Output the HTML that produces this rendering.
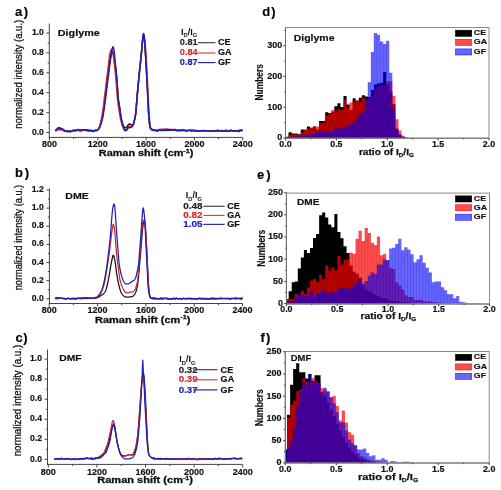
<!DOCTYPE html><html><head><meta charset="utf-8"><style>html,body{margin:0;padding:0;background:#fff;width:501px;height:490px;overflow:hidden}</style></head><body><svg width="501" height="490" viewBox="0 0 501 490" style="display:block;filter:blur(0.35px)">
<g font-family='"Liberation Sans", sans-serif'>
<rect width="501" height="490" fill="#fff"/>
<text x="15.00" y="15.90" font-size="13" font-weight="bold" fill="#000" stroke="#000" stroke-width="0.16" text-anchor="start" >a</text>
<text x="23.80" y="15.90" font-size="13" font-weight="bold" fill="#000" stroke="#000" stroke-width="0.16" text-anchor="start" >)</text>
<text x="15.10" y="177.40" font-size="13" font-weight="bold" fill="#000" stroke="#000" stroke-width="0.16" text-anchor="start" >b</text>
<text x="24.70" y="177.40" font-size="13" font-weight="bold" fill="#000" stroke="#000" stroke-width="0.16" text-anchor="start" >)</text>
<text x="15.50" y="341.60" font-size="13" font-weight="bold" fill="#000" stroke="#000" stroke-width="0.16" text-anchor="start" >c</text>
<text x="23.20" y="341.60" font-size="13" font-weight="bold" fill="#000" stroke="#000" stroke-width="0.16" text-anchor="start" >)</text>
<text x="262.30" y="16.40" font-size="13" font-weight="bold" fill="#000" stroke="#000" stroke-width="0.16" text-anchor="start" >d</text>
<text x="271.30" y="16.40" font-size="13" font-weight="bold" fill="#000" stroke="#000" stroke-width="0.16" text-anchor="start" >)</text>
<text x="257.00" y="179.00" font-size="13" font-weight="bold" fill="#000" stroke="#000" stroke-width="0.16" text-anchor="start" >e</text>
<text x="266.20" y="179.00" font-size="13" font-weight="bold" fill="#000" stroke="#000" stroke-width="0.16" text-anchor="start" >)</text>
<text x="260.50" y="341.90" font-size="13" font-weight="bold" fill="#000" stroke="#000" stroke-width="0.16" text-anchor="start" >f</text>
<text x="266.10" y="341.90" font-size="13" font-weight="bold" fill="#000" stroke="#000" stroke-width="0.16" text-anchor="start" >)</text>
<path d="M55.30,130.63 L56.30,129.92 L57.30,129.12 L58.30,127.79 L59.30,128.62 L60.30,128.34 L61.30,128.83 L62.30,128.65 L63.30,129.94 L64.30,130.26 L65.30,130.97 L66.30,131.21 L67.30,131.25 L68.30,131.29 L69.30,131.14 L70.30,131.58 L71.30,130.94 L72.30,130.80 L73.30,130.56 L74.30,130.86 L75.30,130.45 L76.30,130.35 L77.30,130.23 L78.30,129.69 L79.30,130.33 L80.30,131.01 L81.30,129.88 L82.30,130.37 L83.30,129.66 L84.30,129.95 L85.30,129.92 L86.30,130.21 L87.30,129.79 L88.30,130.77 L89.30,130.31 L90.30,130.95 L91.30,130.67 L92.30,131.21 L93.30,131.49 L94.30,130.89 L95.30,130.47 L95.55,130.40 L95.80,130.62 L96.05,130.66 L96.30,130.63 L96.55,130.59 L96.80,130.51 L97.05,130.39 L97.30,130.22 L97.55,130.01 L97.80,129.77 L98.05,129.51 L98.30,129.23 L98.55,128.94 L98.80,128.58 L99.05,128.15 L99.30,127.64 L99.55,127.09 L99.80,126.50 L100.05,125.85 L100.30,125.12 L100.55,124.31 L100.80,123.45 L101.05,122.55 L101.30,121.63 L101.55,120.68 L101.80,119.69 L102.05,118.63 L102.30,117.50 L102.55,116.28 L102.80,114.95 L103.05,113.41 L103.30,111.71 L103.55,109.90 L103.80,108.02 L104.05,106.12 L104.30,104.25 L104.55,102.35 L104.80,100.39 L105.05,98.40 L105.30,96.40 L105.55,94.40 L105.80,92.39 L106.05,90.34 L106.30,88.26 L106.55,86.17 L106.80,84.08 L107.05,82.00 L107.30,79.96 L107.55,77.95 L107.80,76.01 L108.05,74.13 L108.30,72.23 L108.55,70.30 L108.80,68.37 L109.05,66.46 L109.30,64.61 L109.55,62.85 L109.80,61.21 L110.05,59.71 L110.30,58.40 L110.55,57.29 L110.80,56.23 L111.05,55.18 L111.30,54.19 L111.55,53.32 L111.80,52.62 L112.05,52.17 L112.30,52.00 L112.55,52.15 L112.80,52.57 L113.05,53.17 L113.30,53.89 L113.55,54.66 L113.80,55.71 L114.05,57.08 L114.30,58.69 L114.55,60.45 L114.80,62.27 L115.05,64.11 L115.30,66.08 L115.55,68.19 L115.80,70.42 L116.05,72.77 L116.30,75.23 L116.55,77.78 L116.80,80.42 L117.05,83.25 L117.30,86.56 L117.55,90.09 L117.80,93.54 L118.05,96.59 L118.30,98.98 L118.55,100.99 L118.80,102.77 L119.05,104.41 L119.30,105.98 L119.55,107.54 L119.80,109.16 L120.05,110.85 L120.30,112.56 L120.55,114.23 L120.80,115.82 L121.05,117.27 L121.30,118.55 L121.55,119.64 L121.80,120.65 L122.05,121.62 L122.30,122.51 L122.55,123.34 L122.80,124.08 L123.05,124.74 L123.30,125.30 L123.55,125.79 L123.80,126.26 L124.05,126.72 L124.30,127.13 L124.55,127.46 L124.80,127.69 L125.05,127.80 L125.30,127.80 L125.55,127.78 L125.80,127.75 L126.05,127.70 L126.30,127.65 L126.55,127.58 L126.80,127.35 L127.05,126.95 L127.30,126.46 L127.55,125.94 L127.80,125.48 L128.05,125.14 L128.30,124.85 L128.55,124.56 L128.80,124.31 L129.05,124.11 L129.30,124.01 L129.55,124.01 L129.80,124.09 L130.05,124.20 L130.30,124.34 L130.55,124.48 L130.80,124.62 L131.05,124.79 L131.30,124.96 L131.55,125.08 L131.80,125.09 L132.05,125.04 L132.30,124.93 L132.55,124.77 L132.80,124.57 L133.05,124.35 L133.30,124.01 L133.55,123.41 L133.80,122.61 L134.05,121.66 L134.30,120.64 L134.55,119.60 L134.80,118.58 L135.05,117.47 L135.30,116.22 L135.55,114.73 L135.80,112.88 L136.05,110.17 L136.30,107.00 L136.55,103.90 L136.80,100.83 L137.05,97.70 L137.30,94.66 L137.55,91.81 L137.80,89.08 L138.05,86.42 L138.30,83.81 L138.55,81.26 L138.80,78.73 L139.05,76.22 L139.30,73.72 L139.55,71.20 L139.80,68.70 L140.05,66.23 L140.30,63.79 L140.55,61.35 L140.80,58.92 L141.05,56.48 L141.30,54.02 L141.55,51.52 L141.80,48.95 L142.05,46.14 L142.30,43.28 L142.55,40.64 L142.80,38.50 L143.05,36.59 L143.30,35.00 L143.55,34.52 L143.80,35.26 L144.05,36.73 L144.30,38.50 L144.55,40.88 L144.80,44.14 L145.05,47.80 L145.30,51.46 L145.55,55.30 L145.80,59.39 L146.05,63.67 L146.30,68.09 L146.55,72.62 L146.80,77.38 L147.05,82.37 L147.30,87.46 L147.55,92.51 L147.80,97.66 L148.05,103.13 L148.30,108.44 L148.55,113.06 L148.80,116.57 L149.05,119.30 L149.30,121.63 L149.55,123.85 L149.80,125.97 L150.05,127.14 L150.30,127.75 L150.55,128.24 L150.80,128.63 L151.05,128.93 L151.30,129.16 L151.55,129.33 L151.80,129.48 L152.05,129.64 L152.30,129.91 L152.55,129.92 L152.80,130.16 L153.05,130.02 L153.30,130.55 L153.55,130.44 L153.80,129.83 L154.05,130.16 L154.30,130.39 L154.55,130.09 L154.80,130.14 L155.05,129.98 L156.05,130.46 L157.05,131.23 L158.05,130.41 L159.05,130.37 L160.05,130.07 L161.05,130.14 L162.05,130.67 L163.05,130.21 L164.05,130.32 L165.05,129.87 L166.05,130.33 L167.05,130.10 L168.05,130.24 L169.05,130.12 L170.05,130.33 L171.05,130.27 L172.05,130.27 L173.05,130.15 L174.05,130.33 L175.05,129.85 L176.05,130.49 L177.05,130.43 L178.05,130.15 L179.05,130.48 L180.05,130.26 L181.05,130.68 L182.05,130.21 L183.05,129.79 L184.05,130.17 L185.05,130.35 L186.05,130.67 L187.05,130.97 L188.05,130.39 L189.05,130.49 L190.05,130.33 L191.05,130.22 L192.05,130.16 L193.05,130.41 L194.05,130.59 L195.05,130.43 L196.05,130.49 L197.05,131.21 L198.05,130.87 L199.05,130.88 L200.05,130.98 L201.05,130.75 L202.05,130.68 L203.05,130.96 L204.05,131.23 L205.05,130.90 L206.05,130.92 L207.05,130.76 L208.05,131.09 L209.05,130.76 L210.05,131.10 L211.05,131.19 L212.05,131.03 L213.05,131.02 L214.05,130.70 L215.05,130.99 L216.05,130.93 L217.05,130.46 L218.05,130.32 L219.05,131.02 L220.05,130.98 L221.05,130.77 L222.05,130.55 L223.05,131.11 L224.05,130.67 L225.05,131.25 L226.05,130.14 L227.05,131.19 L228.05,130.91 L229.05,131.03 L230.05,130.50 L231.05,130.25 L232.05,130.55 L233.05,130.80 L234.05,131.34 L235.05,131.03 L236.05,130.79 L237.05,131.06 L238.05,130.56 L239.05,130.41 L240.05,130.46 L241.05,130.24 L242.05,130.57 L242.70,130.27" fill="none" stroke="#111" stroke-width="1.5" stroke-linejoin="round"/>
<path d="M55.30,131.13 L56.30,130.74 L57.30,130.19 L58.30,129.10 L59.30,130.02 L60.30,129.61 L61.30,129.88 L62.30,129.50 L63.30,130.64 L64.30,130.82 L65.30,131.38 L66.30,131.52 L67.30,131.55 L68.30,131.59 L69.30,131.44 L70.30,131.87 L71.30,131.23 L72.30,131.11 L73.30,130.90 L74.30,131.24 L75.30,130.85 L76.30,130.75 L77.30,130.64 L78.30,130.09 L79.30,130.73 L80.30,131.41 L81.30,130.28 L82.30,130.77 L83.30,130.06 L84.30,130.35 L85.30,130.32 L86.30,130.60 L87.30,130.17 L88.30,131.13 L89.30,130.64 L90.30,131.24 L91.30,130.86 L92.30,131.30 L93.30,131.51 L94.30,130.89 L95.30,130.37 L95.55,130.26 L95.80,130.44 L96.05,130.45 L96.30,130.37 L96.55,130.28 L96.80,130.16 L97.05,129.99 L97.30,129.77 L97.55,129.52 L97.80,129.23 L98.05,128.91 L98.30,128.58 L98.55,128.23 L98.80,127.81 L99.05,127.31 L99.30,126.73 L99.55,126.09 L99.80,125.40 L100.05,124.61 L100.30,123.70 L100.55,122.68 L100.80,121.60 L101.05,120.48 L101.30,119.35 L101.55,118.19 L101.80,116.99 L102.05,115.72 L102.30,114.37 L102.55,112.92 L102.80,111.35 L103.05,109.57 L103.30,107.61 L103.55,105.53 L103.80,103.39 L104.05,101.26 L104.30,99.17 L104.55,97.04 L104.80,94.88 L105.05,92.71 L105.30,90.55 L105.55,88.42 L105.80,86.33 L106.05,84.25 L106.30,82.18 L106.55,80.12 L106.80,78.08 L107.05,76.05 L107.30,74.04 L107.55,72.04 L107.80,70.07 L108.05,68.11 L108.30,66.04 L108.55,63.87 L108.80,61.68 L109.05,59.56 L109.30,57.57 L109.55,55.82 L109.80,54.38 L110.05,53.32 L110.30,52.40 L110.55,51.53 L110.80,50.76 L111.05,50.14 L111.30,49.70 L111.55,49.51 L111.80,49.62 L112.05,50.06 L112.30,50.74 L112.55,51.58 L112.80,52.50 L113.05,53.70 L113.30,55.37 L113.55,57.34 L113.80,59.46 L114.05,61.59 L114.30,63.66 L114.55,65.79 L114.80,68.00 L115.05,70.29 L115.30,72.67 L115.55,75.15 L115.80,77.74 L116.05,80.44 L116.30,83.44 L116.55,86.90 L116.80,90.53 L117.05,94.02 L117.30,97.07 L117.55,99.49 L117.80,101.64 L118.05,103.59 L118.30,105.39 L118.55,107.09 L118.80,108.72 L119.05,110.32 L119.30,111.89 L119.55,113.40 L119.80,114.86 L120.05,116.24 L120.30,117.55 L120.55,118.77 L120.80,119.92 L121.05,121.06 L121.30,122.16 L121.55,123.20 L121.80,124.15 L122.05,125.01 L122.30,125.75 L122.55,126.37 L122.80,126.98 L123.05,127.58 L123.30,128.15 L123.55,128.66 L123.80,129.11 L124.05,129.46 L124.30,129.69 L124.55,129.80 L124.80,129.79 L125.05,129.77 L125.30,129.72 L125.55,129.66 L125.80,129.58 L126.05,129.49 L126.30,129.39 L126.55,129.27 L126.80,129.07 L127.05,128.77 L127.30,128.42 L127.55,128.05 L127.80,127.71 L128.05,127.45 L128.30,127.20 L128.55,126.96 L128.80,126.75 L129.05,126.62 L129.30,126.60 L129.55,126.64 L129.80,126.69 L130.05,126.74 L130.30,126.79 L130.55,126.80 L130.80,126.78 L131.05,126.72 L131.30,126.65 L131.55,126.55 L131.80,126.45 L132.05,126.32 L132.30,126.14 L132.55,125.89 L132.80,125.59 L133.05,125.22 L133.30,124.80 L133.55,124.16 L133.80,123.22 L134.05,122.09 L134.30,120.85 L134.55,119.63 L134.80,118.50 L135.05,117.38 L135.30,116.17 L135.55,114.72 L135.80,112.88 L136.05,110.17 L136.30,107.00 L136.55,103.90 L136.80,100.83 L137.05,97.70 L137.30,94.66 L137.55,91.81 L137.80,89.07 L138.05,86.40 L138.30,83.79 L138.55,81.22 L138.80,78.70 L139.05,76.19 L139.30,73.70 L139.55,71.20 L139.80,68.73 L140.05,66.29 L140.30,63.89 L140.55,61.49 L140.80,59.11 L141.05,56.73 L141.30,54.35 L141.55,51.95 L141.80,49.50 L142.05,46.81 L142.30,44.06 L142.55,41.52 L142.80,39.44 L143.05,37.92 L143.30,36.50 L143.55,35.43 L143.80,35.00 L144.05,35.44 L144.30,36.55 L144.55,38.04 L144.80,39.72 L145.05,42.10 L145.30,45.11 L145.55,48.45 L145.80,51.90 L146.05,55.71 L146.30,59.89 L146.55,64.30 L146.80,68.85 L147.05,73.42 L147.30,78.15 L147.55,83.07 L147.80,88.07 L148.05,93.02 L148.30,98.05 L148.55,103.34 L148.80,108.48 L149.05,113.03 L149.30,116.65 L149.55,119.76 L149.80,122.38 L150.05,124.34 L150.30,125.95 L150.55,127.16 L150.80,127.80 L151.05,128.24 L151.30,128.62 L151.55,128.93 L151.80,129.19 L152.05,129.42 L152.30,129.72 L152.55,129.73 L152.80,129.96 L153.05,129.82 L153.30,130.35 L153.55,130.25 L153.80,129.64 L154.05,129.97 L154.30,130.19 L154.55,129.87 L154.80,129.89 L155.05,129.70 L156.05,130.04 L157.05,130.66 L158.05,129.69 L159.05,129.55 L160.05,129.20 L161.05,129.25 L162.05,129.76 L163.05,129.28 L164.05,129.37 L165.05,128.89 L166.05,129.33 L167.05,129.10 L168.05,129.26 L169.05,129.17 L170.05,129.43 L171.05,129.41 L172.05,129.45 L173.05,129.38 L174.05,129.64 L175.05,129.26 L176.05,129.98 L177.05,130.00 L178.05,129.77 L179.05,130.15 L180.05,129.96 L181.05,130.41 L182.05,129.97 L183.05,129.58 L184.05,129.98 L185.05,130.17 L186.05,130.52 L187.05,130.83 L188.05,130.26 L189.05,130.38 L190.05,130.23 L191.05,130.13 L192.05,130.09 L193.05,130.35 L194.05,130.54 L195.05,130.39 L196.05,130.46 L197.05,131.19 L198.05,130.86 L199.05,130.87 L200.05,130.98 L201.05,130.76 L202.05,130.69 L203.05,130.99 L204.05,131.25 L205.05,130.93 L206.05,130.95 L207.05,130.79 L208.05,131.11 L209.05,130.78 L210.05,131.11 L211.05,131.20 L212.05,131.04 L213.05,131.02 L214.05,130.70 L215.05,130.99 L216.05,130.93 L217.05,130.47 L218.05,130.32 L219.05,131.03 L220.05,130.99 L221.05,130.79 L222.05,130.57 L223.05,131.14 L224.05,130.71 L225.05,131.30 L226.05,130.20 L227.05,131.27 L228.05,131.00 L229.05,131.13 L230.05,130.62 L231.05,130.38 L232.05,130.69 L233.05,130.93 L234.05,131.46 L235.05,131.13 L236.05,130.87 L237.05,131.11 L238.05,130.60 L239.05,130.41 L240.05,130.43 L241.05,130.19 L242.05,130.48 L242.70,130.17" fill="none" stroke="#cc2a2a" stroke-width="1.5" stroke-linejoin="round"/>
<path d="M55.30,130.92 L56.30,129.49 L57.30,128.98 L58.30,128.18 L59.30,127.51 L60.30,128.11 L61.30,128.40 L62.30,129.01 L63.30,129.81 L64.30,130.29 L65.30,131.37 L66.30,131.42 L67.30,130.99 L68.30,131.83 L69.30,131.04 L70.30,131.53 L71.30,131.41 L72.30,130.47 L73.30,130.26 L74.30,129.95 L75.30,130.34 L76.30,130.24 L77.30,129.62 L78.30,129.43 L79.30,130.16 L80.30,129.67 L81.30,129.69 L82.30,129.74 L83.30,130.06 L84.30,130.00 L85.30,130.22 L86.30,129.85 L87.30,130.54 L88.30,130.28 L89.30,130.32 L90.30,130.19 L91.30,130.26 L92.30,130.57 L93.30,131.27 L94.30,130.61 L95.30,130.41 L95.55,130.36 L95.80,130.07 L96.05,130.53 L96.30,130.51 L96.55,130.50 L96.80,130.44 L97.05,130.35 L97.30,130.23 L97.55,130.07 L97.80,129.89 L98.05,129.69 L98.30,129.48 L98.55,129.25 L98.80,128.97 L99.05,128.60 L99.30,128.18 L99.55,127.70 L99.80,127.20 L100.05,126.64 L100.30,125.98 L100.55,125.26 L100.80,124.49 L101.05,123.69 L101.30,122.87 L101.55,122.04 L101.80,121.16 L102.05,120.23 L102.30,119.25 L102.55,118.18 L102.80,117.02 L103.05,115.72 L103.30,114.28 L103.55,112.75 L103.80,111.14 L104.05,109.50 L104.30,107.83 L104.55,106.07 L104.80,104.24 L105.05,102.34 L105.30,100.42 L105.55,98.49 L105.80,96.55 L106.05,94.57 L106.30,92.57 L106.55,90.55 L106.80,88.51 L107.05,86.47 L107.30,84.43 L107.55,82.40 L107.80,80.39 L108.05,78.40 L108.30,76.42 L108.55,74.42 L108.80,72.42 L109.05,70.43 L109.30,68.45 L109.55,66.49 L109.80,64.57 L110.05,62.68 L110.30,60.84 L110.55,59.04 L110.80,57.19 L111.05,55.30 L111.30,53.46 L111.55,51.79 L111.80,50.38 L112.05,49.31 L112.30,48.37 L112.55,47.53 L112.80,46.96 L113.05,46.81 L113.30,47.20 L113.55,48.00 L113.80,49.05 L114.05,50.41 L114.30,52.70 L114.55,55.52 L114.80,58.37 L115.05,60.85 L115.30,63.17 L115.55,65.42 L115.80,67.67 L116.05,69.96 L116.30,72.34 L116.55,74.88 L116.80,77.63 L117.05,80.77 L117.30,84.65 L117.55,88.89 L117.80,92.99 L118.05,96.49 L118.30,98.99 L118.55,100.93 L118.80,102.58 L119.05,104.06 L119.30,105.50 L119.55,107.01 L119.80,108.70 L120.05,110.54 L120.30,112.39 L120.55,114.17 L120.80,115.83 L121.05,117.44 L121.30,118.89 L121.55,120.11 L121.80,121.23 L122.05,122.29 L122.30,123.27 L122.55,124.19 L122.80,125.06 L123.05,125.86 L123.30,126.61 L123.55,127.34 L123.80,128.11 L124.05,128.88 L124.30,129.59 L124.55,130.18 L124.80,130.60 L125.05,130.79 L125.30,130.79 L125.55,130.75 L125.80,130.68 L126.05,130.60 L126.30,130.49 L126.55,130.37 L126.80,130.13 L127.05,129.75 L127.30,129.31 L127.55,128.85 L127.80,128.45 L128.05,128.15 L128.30,127.88 L128.55,127.63 L128.80,127.45 L129.05,127.40 L129.30,127.43 L129.55,127.48 L129.80,127.53 L130.05,127.58 L130.30,127.60 L130.55,127.57 L130.80,127.48 L131.05,127.35 L131.30,127.19 L131.55,127.01 L131.80,126.82 L132.05,126.60 L132.30,126.33 L132.55,126.01 L132.80,125.63 L133.05,125.19 L133.30,124.64 L133.55,123.87 L133.80,122.92 L134.05,121.87 L134.30,120.75 L134.55,119.62 L134.80,118.53 L135.05,117.42 L135.30,116.18 L135.55,114.73 L135.80,112.88 L136.05,110.17 L136.30,107.00 L136.55,103.90 L136.80,100.83 L137.05,97.70 L137.30,94.66 L137.55,91.82 L137.80,89.08 L138.05,86.42 L138.30,83.82 L138.55,81.27 L138.80,78.75 L139.05,76.24 L139.30,73.72 L139.55,71.19 L139.80,68.68 L140.05,66.20 L140.30,63.75 L140.55,61.30 L140.80,58.84 L141.05,56.38 L141.30,53.88 L141.55,51.35 L141.80,48.73 L142.05,45.89 L142.30,42.99 L142.55,40.27 L142.80,38.00 L143.05,35.87 L143.30,34.07 L143.55,33.53 L143.80,34.37 L144.05,36.03 L144.30,38.00 L144.55,40.51 L144.80,43.84 L145.05,47.56 L145.30,51.29 L145.55,55.19 L145.80,59.31 L146.05,63.62 L146.30,68.07 L146.55,72.62 L146.80,77.40 L147.05,82.38 L147.30,87.46 L147.55,92.51 L147.80,97.66 L148.05,103.13 L148.30,108.44 L148.55,113.06 L148.80,116.56 L149.05,119.27 L149.30,121.60 L149.55,123.93 L149.80,126.21 L150.05,127.43 L150.30,128.03 L150.55,128.50 L150.80,128.86 L151.05,129.15 L151.30,129.36 L151.55,129.53 L151.80,129.67 L152.05,129.76 L152.30,129.37 L152.55,129.66 L152.80,129.87 L153.05,129.72 L153.30,130.06 L153.55,130.05 L153.80,129.77 L154.05,130.17 L154.30,130.04 L154.55,130.15 L154.80,130.45 L155.05,130.25 L156.05,130.45 L157.05,130.72 L158.05,130.41 L159.05,130.64 L160.05,130.10 L161.05,130.62 L162.05,129.90 L163.05,130.26 L164.05,129.54 L165.05,130.66 L166.05,129.99 L167.05,129.94 L168.05,130.51 L169.05,129.64 L170.05,129.91 L171.05,129.68 L172.05,129.70 L173.05,130.35 L174.05,129.75 L175.05,130.04 L176.05,130.66 L177.05,130.48 L178.05,130.30 L179.05,130.87 L180.05,130.70 L181.05,130.09 L182.05,130.67 L183.05,130.20 L184.05,130.65 L185.05,130.75 L186.05,130.56 L187.05,130.55 L188.05,130.63 L189.05,130.36 L190.05,130.00 L191.05,131.25 L192.05,131.13 L193.05,130.56 L194.05,130.79 L195.05,131.24 L196.05,131.05 L197.05,130.61 L198.05,130.90 L199.05,131.08 L200.05,131.24 L201.05,130.72 L202.05,130.57 L203.05,130.62 L204.05,130.59 L205.05,130.68 L206.05,130.78 L207.05,130.88 L208.05,131.30 L209.05,131.27 L210.05,130.89 L211.05,130.92 L212.05,131.14 L213.05,131.26 L214.05,130.43 L215.05,130.91 L216.05,130.87 L217.05,131.38 L218.05,131.05 L219.05,130.66 L220.05,130.66 L221.05,131.26 L222.05,130.92 L223.05,130.91 L224.05,131.25 L225.05,130.66 L226.05,131.17 L227.05,131.25 L228.05,131.47 L229.05,131.06 L230.05,130.74 L231.05,130.52 L232.05,130.92 L233.05,130.69 L234.05,130.65 L235.05,131.01 L236.05,130.82 L237.05,130.87 L238.05,131.22 L239.05,131.45 L240.05,130.45 L241.05,130.27 L242.05,130.45 L242.70,130.31" fill="none" stroke="#2020b8" stroke-width="1.5" stroke-linejoin="round"/>
<line x1="49.30" y1="23.50" x2="49.30" y2="137.90" stroke="#444" stroke-width="1.0" />
<line x1="48.80" y1="137.40" x2="242.70" y2="137.40" stroke="#444" stroke-width="1.0" />
<line x1="46.30" y1="132.60" x2="49.30" y2="132.60" stroke="#444" stroke-width="1.0" />
<text x="43.90" y="135.00" font-size="8.4" font-weight="bold" fill="#111" stroke="#111" stroke-width="0.16" text-anchor="end" textLength="12.00" lengthAdjust="spacingAndGlyphs" >0.0</text>
<line x1="47.70" y1="122.64" x2="49.30" y2="122.64" stroke="#444" stroke-width="1.0" />
<line x1="46.30" y1="112.68" x2="49.30" y2="112.68" stroke="#444" stroke-width="1.0" />
<text x="43.90" y="115.08" font-size="8.4" font-weight="bold" fill="#111" stroke="#111" stroke-width="0.16" text-anchor="end" textLength="12.00" lengthAdjust="spacingAndGlyphs" >0.2</text>
<line x1="47.70" y1="102.72" x2="49.30" y2="102.72" stroke="#444" stroke-width="1.0" />
<line x1="46.30" y1="92.76" x2="49.30" y2="92.76" stroke="#444" stroke-width="1.0" />
<text x="43.90" y="95.16" font-size="8.4" font-weight="bold" fill="#111" stroke="#111" stroke-width="0.16" text-anchor="end" textLength="12.00" lengthAdjust="spacingAndGlyphs" >0.4</text>
<line x1="47.70" y1="82.80" x2="49.30" y2="82.80" stroke="#444" stroke-width="1.0" />
<line x1="46.30" y1="72.84" x2="49.30" y2="72.84" stroke="#444" stroke-width="1.0" />
<text x="43.90" y="75.24" font-size="8.4" font-weight="bold" fill="#111" stroke="#111" stroke-width="0.16" text-anchor="end" textLength="12.00" lengthAdjust="spacingAndGlyphs" >0.6</text>
<line x1="47.70" y1="62.88" x2="49.30" y2="62.88" stroke="#444" stroke-width="1.0" />
<line x1="46.30" y1="52.92" x2="49.30" y2="52.92" stroke="#444" stroke-width="1.0" />
<text x="43.90" y="55.32" font-size="8.4" font-weight="bold" fill="#111" stroke="#111" stroke-width="0.16" text-anchor="end" textLength="12.00" lengthAdjust="spacingAndGlyphs" >0.8</text>
<line x1="47.70" y1="42.96" x2="49.30" y2="42.96" stroke="#444" stroke-width="1.0" />
<line x1="46.30" y1="33.00" x2="49.30" y2="33.00" stroke="#444" stroke-width="1.0" />
<text x="43.90" y="35.40" font-size="8.4" font-weight="bold" fill="#111" stroke="#111" stroke-width="0.16" text-anchor="end" textLength="12.00" lengthAdjust="spacingAndGlyphs" >1.0</text>
<line x1="49.50" y1="137.40" x2="49.50" y2="140.40" stroke="#444" stroke-width="1.0" />
<text x="49.50" y="146.90" font-size="8.6" font-weight="bold" fill="#111" stroke="#111" stroke-width="0.16" text-anchor="middle" textLength="15.00" lengthAdjust="spacingAndGlyphs" >800</text>
<line x1="73.65" y1="137.40" x2="73.65" y2="139.00" stroke="#444" stroke-width="1.0" />
<line x1="97.80" y1="137.40" x2="97.80" y2="140.40" stroke="#444" stroke-width="1.0" />
<text x="97.80" y="146.90" font-size="8.6" font-weight="bold" fill="#111" stroke="#111" stroke-width="0.16" text-anchor="middle" textLength="20.00" lengthAdjust="spacingAndGlyphs" >1200</text>
<line x1="121.95" y1="137.40" x2="121.95" y2="139.00" stroke="#444" stroke-width="1.0" />
<line x1="146.10" y1="137.40" x2="146.10" y2="140.40" stroke="#444" stroke-width="1.0" />
<text x="146.10" y="146.90" font-size="8.6" font-weight="bold" fill="#111" stroke="#111" stroke-width="0.16" text-anchor="middle" textLength="20.00" lengthAdjust="spacingAndGlyphs" >1600</text>
<line x1="170.25" y1="137.40" x2="170.25" y2="139.00" stroke="#444" stroke-width="1.0" />
<line x1="194.40" y1="137.40" x2="194.40" y2="140.40" stroke="#444" stroke-width="1.0" />
<text x="194.40" y="146.90" font-size="8.6" font-weight="bold" fill="#111" stroke="#111" stroke-width="0.16" text-anchor="middle" textLength="20.00" lengthAdjust="spacingAndGlyphs" >2000</text>
<line x1="218.55" y1="137.40" x2="218.55" y2="139.00" stroke="#444" stroke-width="1.0" />
<line x1="242.70" y1="137.40" x2="242.70" y2="140.40" stroke="#444" stroke-width="1.0" />
<text x="242.70" y="146.90" font-size="8.6" font-weight="bold" fill="#111" stroke="#111" stroke-width="0.16" text-anchor="middle" textLength="20.00" lengthAdjust="spacingAndGlyphs" >2400</text>
<path d="M55.00,298.87 L56.00,298.54 L57.00,298.35 L58.00,298.82 L59.00,298.30 L60.00,298.37 L61.00,298.40 L62.00,298.34 L63.00,298.58 L64.00,298.71 L65.00,299.02 L66.00,298.94 L67.00,298.82 L68.00,298.66 L69.00,298.44 L70.00,298.94 L71.00,298.86 L72.00,298.53 L73.00,298.89 L74.00,298.27 L75.00,299.04 L76.00,298.70 L77.00,298.96 L78.00,298.25 L79.00,298.47 L80.00,298.82 L81.00,298.57 L82.00,298.61 L83.00,298.59 L84.00,298.72 L85.00,298.22 L86.00,298.49 L87.00,298.71 L88.00,298.32 L89.00,298.32 L90.00,298.17 L91.00,298.44 L92.00,298.41 L93.00,298.32 L94.00,298.25 L95.00,298.09 L95.25,297.82 L95.50,298.20 L95.75,298.33 L96.00,298.05 L96.25,297.98 L96.50,297.90 L96.75,297.82 L97.00,297.74 L97.25,297.65 L97.50,297.56 L97.75,297.47 L98.00,297.37 L98.25,297.26 L98.50,297.14 L98.75,297.03 L99.00,296.90 L99.25,296.76 L99.50,296.60 L99.75,296.43 L100.00,296.25 L100.25,296.06 L100.50,295.87 L100.75,295.68 L101.00,295.50 L101.25,295.33 L101.50,295.17 L101.75,295.01 L102.00,294.86 L102.25,294.70 L102.50,294.53 L102.75,294.35 L103.00,294.16 L103.25,293.95 L103.50,293.71 L103.75,293.47 L104.00,293.20 L104.25,292.91 L104.50,292.60 L104.75,292.26 L105.00,291.88 L105.25,291.46 L105.50,291.00 L105.75,290.44 L106.00,289.75 L106.25,288.95 L106.50,288.06 L106.75,287.10 L107.00,286.09 L107.25,285.05 L107.50,284.00 L107.75,282.91 L108.00,281.73 L108.25,280.48 L108.50,279.18 L108.75,277.83 L109.00,276.46 L109.25,275.08 L109.50,273.70 L109.75,272.27 L110.00,270.76 L110.25,269.20 L110.50,267.62 L110.75,266.08 L111.00,264.60 L111.25,263.23 L111.50,262.00 L111.75,260.80 L112.00,259.52 L112.25,258.27 L112.50,257.13 L112.75,256.18 L113.00,255.51 L113.25,255.21 L113.50,255.34 L113.75,255.86 L114.00,256.70 L114.25,257.76 L114.50,258.97 L114.75,260.24 L115.00,261.50 L115.25,262.91 L115.50,264.62 L115.75,266.53 L116.00,268.53 L116.25,270.51 L116.50,272.37 L116.75,274.01 L117.00,275.54 L117.25,277.03 L117.50,278.48 L117.75,279.88 L118.00,281.21 L118.25,282.47 L118.50,283.63 L118.75,284.71 L119.00,285.72 L119.25,286.70 L119.50,287.63 L119.75,288.51 L120.00,289.34 L120.25,290.11 L120.50,290.83 L120.75,291.48 L121.00,292.07 L121.25,292.62 L121.50,293.12 L121.75,293.58 L122.00,294.00 L122.25,294.37 L122.50,294.72 L122.75,295.04 L123.00,295.33 L123.25,295.59 L123.50,295.80 L123.75,295.99 L124.00,296.18 L124.25,296.36 L124.50,296.53 L124.75,296.68 L125.00,296.80 L125.25,296.90 L125.50,296.97 L125.75,297.00 L126.00,297.02 L126.25,297.04 L126.50,297.06 L126.75,297.07 L127.00,297.08 L127.25,297.09 L127.50,297.09 L127.75,297.10 L128.00,297.10 L128.25,297.10 L128.50,297.08 L128.75,297.06 L129.00,297.03 L129.25,297.00 L129.50,296.97 L129.75,296.93 L130.00,296.90 L130.25,296.87 L130.50,296.83 L130.75,296.79 L131.00,296.75 L131.25,296.70 L131.50,296.65 L131.75,296.59 L132.00,296.53 L132.25,296.45 L132.50,296.37 L132.75,296.28 L133.00,296.15 L133.25,295.98 L133.50,295.77 L133.75,295.52 L134.00,295.24 L134.25,294.92 L134.50,294.59 L134.75,294.23 L135.00,293.84 L135.25,293.36 L135.50,292.79 L135.75,292.14 L136.00,291.43 L136.25,290.66 L136.50,289.83 L136.75,288.91 L137.00,287.87 L137.25,286.67 L137.50,285.30 L137.75,283.57 L138.00,281.41 L138.25,279.00 L138.50,276.49 L138.75,274.00 L139.00,271.37 L139.25,268.63 L139.50,265.80 L139.75,262.92 L140.00,259.92 L140.25,256.82 L140.50,253.72 L140.75,250.69 L141.00,247.67 L141.25,244.68 L141.50,241.70 L141.75,238.63 L142.00,235.51 L142.25,232.56 L142.50,230.00 L142.75,227.63 L143.00,225.35 L143.25,223.51 L143.50,222.50 L143.75,222.06 L144.00,221.73 L144.25,221.53 L144.50,221.60 L144.75,222.60 L145.00,224.39 L145.25,226.61 L145.50,229.03 L145.75,232.38 L146.00,236.47 L146.25,240.84 L146.50,245.31 L146.75,250.20 L147.00,255.33 L147.25,260.48 L147.50,265.54 L147.75,270.99 L148.00,276.48 L148.25,281.44 L148.50,285.30 L148.75,288.16 L149.00,290.54 L149.25,292.46 L149.50,294.11 L149.75,295.63 L150.00,296.79 L150.25,297.37 L150.50,297.67 L150.75,297.90 L151.00,298.07 L151.25,298.20 L151.50,298.30 L151.75,298.38 L152.00,298.45 L152.25,298.65 L152.50,298.71 L152.75,298.47 L153.00,298.62 L153.25,298.68 L153.50,298.77 L153.75,297.97 L154.00,298.53 L154.25,298.93 L154.50,298.63 L154.75,298.07 L155.00,298.69 L155.25,298.96 L156.25,298.72 L157.25,298.79 L158.25,298.84 L159.25,298.94 L160.25,298.98 L161.25,298.71 L162.25,299.20 L163.25,298.96 L164.25,298.67 L165.25,298.72 L166.25,298.44 L167.25,298.65 L168.25,299.37 L169.25,299.26 L170.25,298.88 L171.25,299.34 L172.25,299.31 L173.25,298.59 L174.25,298.68 L175.25,298.76 L176.25,298.24 L177.25,298.94 L178.25,298.72 L179.25,298.71 L180.25,298.82 L181.25,298.94 L182.25,299.11 L183.25,298.46 L184.25,298.48 L185.25,298.86 L186.25,298.81 L187.25,299.09 L188.25,298.70 L189.25,298.57 L190.25,299.01 L191.25,298.62 L192.25,299.02 L193.25,298.84 L194.25,298.52 L195.25,298.76 L196.25,299.47 L197.25,299.15 L198.25,298.52 L199.25,298.36 L200.25,298.94 L201.25,298.14 L202.25,298.89 L203.25,298.60 L204.25,298.76 L205.25,299.03 L206.25,299.16 L207.25,298.69 L208.25,298.86 L209.25,298.72 L210.25,299.00 L211.25,298.92 L212.25,298.86 L213.25,299.12 L214.25,299.06 L215.25,298.65 L216.25,298.84 L217.25,298.56 L218.25,298.69 L219.25,298.86 L220.25,298.58 L221.25,298.40 L222.25,298.81 L223.25,298.50 L224.25,298.47 L225.25,298.80 L226.25,298.56 L227.25,298.68 L228.25,298.57 L229.25,299.24 L230.25,298.84 L231.25,298.82 L232.25,298.63 L233.25,298.51 L234.25,298.63 L235.25,297.95 L236.25,298.93 L237.25,298.44 L238.25,298.70 L239.25,298.52 L240.25,298.85 L241.25,299.34 L242.25,298.37 L242.60,299.02" fill="none" stroke="#111" stroke-width="1.25" stroke-linejoin="round"/>
<path d="M55.00,298.67 L56.00,298.23 L57.00,297.97 L58.00,298.42 L59.00,297.95 L60.00,298.11 L61.00,298.20 L62.00,298.15 L63.00,298.39 L64.00,298.52 L65.00,298.83 L66.00,298.74 L67.00,298.62 L68.00,298.47 L69.00,298.27 L70.00,298.78 L71.00,298.72 L72.00,298.41 L73.00,298.79 L74.00,298.16 L75.00,298.92 L76.00,298.56 L77.00,298.79 L78.00,298.04 L79.00,298.21 L80.00,298.52 L81.00,298.22 L82.00,298.19 L83.00,298.11 L84.00,298.18 L85.00,297.64 L86.00,297.89 L87.00,298.15 L88.00,297.87 L89.00,297.97 L90.00,297.87 L91.00,298.14 L92.00,298.11 L93.00,298.02 L94.00,297.95 L95.00,297.78 L95.25,297.50 L95.50,297.87 L95.75,297.98 L96.00,297.70 L96.25,297.60 L96.50,297.50 L96.75,297.39 L97.00,297.27 L97.25,297.13 L97.50,296.98 L97.75,296.82 L98.00,296.64 L98.25,296.45 L98.50,296.24 L98.75,296.03 L99.00,295.80 L99.25,295.55 L99.50,295.27 L99.75,294.96 L100.00,294.62 L100.25,294.26 L100.50,293.86 L100.75,293.44 L101.00,293.00 L101.25,292.51 L101.50,291.96 L101.75,291.36 L102.00,290.71 L102.25,290.02 L102.50,289.30 L102.75,288.56 L103.00,287.80 L103.25,287.02 L103.50,286.21 L103.75,285.37 L104.00,284.48 L104.25,283.54 L104.50,282.55 L104.75,281.51 L105.00,280.40 L105.25,279.19 L105.50,277.87 L105.75,276.44 L106.00,274.93 L106.25,273.36 L106.50,271.75 L106.75,270.11 L107.00,268.46 L107.25,266.82 L107.50,265.20 L107.75,263.56 L108.00,261.89 L108.25,260.20 L108.50,258.47 L108.75,256.71 L109.00,254.92 L109.25,253.08 L109.50,251.20 L109.75,249.23 L110.00,247.15 L110.25,245.00 L110.50,242.83 L110.75,240.68 L111.00,238.60 L111.25,236.61 L111.50,234.61 L111.75,232.61 L112.00,230.69 L112.25,228.96 L112.50,227.50 L112.75,226.12 L113.00,224.88 L113.25,224.22 L113.50,224.40 L113.75,225.09 L114.00,226.08 L114.25,227.29 L114.50,229.19 L114.75,231.61 L115.00,234.31 L115.25,237.06 L115.50,240.28 L115.75,243.90 L116.00,247.50 L116.25,250.66 L116.50,253.22 L116.75,255.56 L117.00,257.73 L117.25,259.77 L117.50,261.72 L117.75,263.61 L118.00,265.49 L118.25,267.38 L118.50,269.35 L118.75,271.35 L119.00,273.32 L119.25,275.23 L119.50,277.00 L119.75,278.59 L120.00,279.94 L120.25,281.03 L120.50,281.99 L120.75,282.85 L121.00,283.64 L121.25,284.35 L121.50,285.03 L121.75,285.67 L122.00,286.30 L122.25,286.89 L122.50,287.45 L122.75,287.98 L123.00,288.48 L123.25,288.95 L123.50,289.40 L123.75,289.85 L124.00,290.32 L124.25,290.79 L124.50,291.25 L124.75,291.67 L125.00,292.03 L125.25,292.32 L125.50,292.52 L125.75,292.61 L126.00,292.66 L126.25,292.70 L126.50,292.73 L126.75,292.76 L127.00,292.78 L127.25,292.80 L127.50,292.80 L127.75,292.79 L128.00,292.77 L128.25,292.74 L128.50,292.69 L128.75,292.65 L129.00,292.60 L129.25,292.54 L129.50,292.45 L129.75,292.34 L130.00,292.24 L130.25,292.14 L130.50,292.06 L130.75,292.01 L131.00,291.98 L131.25,291.97 L131.50,291.96 L131.75,291.95 L132.00,291.94 L132.25,291.93 L132.50,291.92 L132.75,291.89 L133.00,291.82 L133.25,291.68 L133.50,291.49 L133.75,291.24 L134.00,290.95 L134.25,290.63 L134.50,290.29 L134.75,289.92 L135.00,289.54 L135.25,289.04 L135.50,288.43 L135.75,287.73 L136.00,286.96 L136.25,286.16 L136.50,285.34 L136.75,284.46 L137.00,283.47 L137.25,282.33 L137.50,281.00 L137.75,279.22 L138.00,276.96 L138.25,274.48 L138.50,272.02 L138.75,269.49 L139.00,266.83 L139.25,264.06 L139.50,261.19 L139.75,258.17 L140.00,255.05 L140.25,251.85 L140.50,248.52 L140.75,245.10 L141.00,241.70 L141.25,238.21 L141.50,234.70 L141.75,231.55 L142.00,228.87 L142.25,226.38 L142.50,224.27 L142.75,222.74 L143.00,221.47 L143.25,220.47 L143.50,220.00 L143.75,219.91 L144.00,219.84 L144.25,219.81 L144.50,219.91 L144.75,221.03 L145.00,223.02 L145.25,225.47 L145.50,228.12 L145.75,231.77 L146.00,236.18 L146.25,240.80 L146.50,245.40 L146.75,250.31 L147.00,255.39 L147.25,260.49 L147.50,265.55 L147.75,271.02 L148.00,276.53 L148.25,281.49 L148.50,285.30 L148.75,288.06 L149.00,290.32 L149.25,292.17 L149.50,293.80 L149.75,295.32 L150.00,296.49 L150.25,297.07 L150.50,297.37 L150.75,297.60 L151.00,297.77 L151.25,297.90 L151.50,298.00 L151.75,298.08 L152.00,298.14 L152.25,298.34 L152.50,298.40 L152.75,298.16 L153.00,298.32 L153.25,298.39 L153.50,298.49 L153.75,297.69 L154.00,298.26 L154.25,298.66 L154.50,298.36 L154.75,297.81 L155.00,298.44 L155.25,298.71 L156.25,298.48 L157.25,298.55 L158.25,298.60 L159.25,298.69 L160.25,298.73 L161.25,298.47 L162.25,298.95 L163.25,298.71 L164.25,298.42 L165.25,298.48 L166.25,298.19 L167.25,298.41 L168.25,299.13 L169.25,299.03 L170.25,298.66 L171.25,299.12 L172.25,299.09 L173.25,298.37 L174.25,298.47 L175.25,298.55 L176.25,298.03 L177.25,298.74 L178.25,298.52 L179.25,298.51 L180.25,298.62 L181.25,298.74 L182.25,298.91 L183.25,298.26 L184.25,298.28 L185.25,298.66 L186.25,298.61 L187.25,298.89 L188.25,298.50 L189.25,298.37 L190.25,298.81 L191.25,298.42 L192.25,298.82 L193.25,298.64 L194.25,298.32 L195.25,298.56 L196.25,299.27 L197.25,298.95 L198.25,298.32 L199.25,298.16 L200.25,298.74 L201.25,297.94 L202.25,298.69 L203.25,298.40 L204.25,298.56 L205.25,298.83 L206.25,298.96 L207.25,298.49 L208.25,298.67 L209.25,298.54 L210.25,298.82 L211.25,298.73 L212.25,298.68 L213.25,298.95 L214.25,298.88 L215.25,298.47 L216.25,298.66 L217.25,298.39 L218.25,298.52 L219.25,298.69 L220.25,298.40 L221.25,298.23 L222.25,298.64 L223.25,298.33 L224.25,298.30 L225.25,298.62 L226.25,298.38 L227.25,298.50 L228.25,298.40 L229.25,299.06 L230.25,298.66 L231.25,298.64 L232.25,298.44 L233.25,298.33 L234.25,298.44 L235.25,297.76 L236.25,298.75 L237.25,298.25 L238.25,298.51 L239.25,298.33 L240.25,298.65 L241.25,299.14 L242.25,298.17 L242.60,298.82" fill="none" stroke="#cc2a2a" stroke-width="1.25" stroke-linejoin="round"/>
<path d="M55.00,298.30 L56.00,297.65 L57.00,297.54 L58.00,297.63 L59.00,297.90 L60.00,298.12 L61.00,297.72 L62.00,298.45 L63.00,298.55 L64.00,298.09 L65.00,298.93 L66.00,298.92 L67.00,298.58 L68.00,298.02 L69.00,298.47 L70.00,298.83 L71.00,298.39 L72.00,298.88 L73.00,298.02 L74.00,298.77 L75.00,298.79 L76.00,298.13 L77.00,298.26 L78.00,298.14 L79.00,298.15 L80.00,298.12 L81.00,297.75 L82.00,297.87 L83.00,298.22 L84.00,297.67 L85.00,297.53 L86.00,297.63 L87.00,297.54 L88.00,298.09 L89.00,298.18 L90.00,298.33 L91.00,298.53 L92.00,298.02 L93.00,297.83 L94.00,298.09 L95.00,298.24 L95.25,297.92 L95.50,297.49 L95.75,297.55 L96.00,297.43 L96.25,297.32 L96.50,297.20 L96.75,297.06 L97.00,296.89 L97.25,296.68 L97.50,296.45 L97.75,296.20 L98.00,295.93 L98.25,295.65 L98.50,295.35 L98.75,295.06 L99.00,294.76 L99.25,294.44 L99.50,294.10 L99.75,293.74 L100.00,293.35 L100.25,292.95 L100.50,292.52 L100.75,292.07 L101.00,291.60 L101.25,291.09 L101.50,290.54 L101.75,289.95 L102.00,289.32 L102.25,288.64 L102.50,287.92 L102.75,287.16 L103.00,286.34 L103.25,285.42 L103.50,284.43 L103.75,283.38 L104.00,282.26 L104.25,281.11 L104.50,279.92 L104.75,278.65 L105.00,277.30 L105.25,275.89 L105.50,274.43 L105.75,272.92 L106.00,271.38 L106.25,269.76 L106.50,268.08 L106.75,266.35 L107.00,264.57 L107.25,262.76 L107.50,260.93 L107.75,259.05 L108.00,257.12 L108.25,255.16 L108.50,253.14 L108.75,251.09 L109.00,249.02 L109.25,246.93 L109.50,244.76 L109.75,242.46 L110.00,240.00 L110.25,237.27 L110.50,234.29 L110.75,231.16 L111.00,228.00 L111.25,224.65 L111.50,221.19 L111.75,218.05 L112.00,215.37 L112.25,212.77 L112.50,210.41 L112.75,208.43 L113.00,207.00 L113.25,205.91 L113.50,204.95 L113.75,204.26 L114.00,204.00 L114.25,204.46 L114.50,205.63 L114.75,207.18 L115.00,209.29 L115.25,212.51 L115.50,216.12 L115.75,219.56 L116.00,223.18 L116.25,226.85 L116.50,230.40 L116.75,233.89 L117.00,237.32 L117.25,240.66 L117.50,243.92 L117.75,247.11 L118.00,250.25 L118.25,253.43 L118.50,256.76 L118.75,259.88 L119.00,262.40 L119.25,264.36 L119.50,266.10 L119.75,267.65 L120.00,269.04 L120.25,270.32 L120.50,271.50 L120.75,272.62 L121.00,273.66 L121.25,274.64 L121.50,275.56 L121.75,276.42 L122.00,277.22 L122.25,277.96 L122.50,278.66 L122.75,279.33 L123.00,279.98 L123.25,280.57 L123.50,281.12 L123.75,281.60 L124.00,282.00 L124.25,282.36 L124.50,282.72 L124.75,283.04 L125.00,283.33 L125.25,283.57 L125.50,283.73 L125.75,283.81 L126.00,283.86 L126.25,283.90 L126.50,283.93 L126.75,283.96 L127.00,283.98 L127.25,284.00 L127.50,284.00 L127.75,283.98 L128.00,283.92 L128.25,283.84 L128.50,283.73 L128.75,283.60 L129.00,283.47 L129.25,283.33 L129.50,283.20 L129.75,283.06 L130.00,282.89 L130.25,282.71 L130.50,282.52 L130.75,282.33 L131.00,282.14 L131.25,281.97 L131.50,281.79 L131.75,281.62 L132.00,281.46 L132.25,281.29 L132.50,281.13 L132.75,280.97 L133.00,280.83 L133.25,280.71 L133.50,280.59 L133.75,280.46 L134.00,280.31 L134.25,280.13 L134.50,279.90 L134.75,279.56 L135.00,279.11 L135.25,278.58 L135.50,277.97 L135.75,277.30 L136.00,276.60 L136.25,275.78 L136.50,274.80 L136.75,273.69 L137.00,272.50 L137.25,271.25 L137.50,270.00 L137.75,268.75 L138.00,267.43 L138.25,265.96 L138.50,264.26 L138.75,262.15 L139.00,259.34 L139.25,256.16 L139.50,253.00 L139.75,249.96 L140.00,246.85 L140.25,243.67 L140.50,240.36 L140.75,236.94 L141.00,233.40 L141.25,229.76 L141.50,225.84 L141.75,221.93 L142.00,218.46 L142.25,215.19 L142.50,212.39 L142.75,210.24 L143.00,208.40 L143.25,207.83 L143.50,208.75 L143.75,210.42 L144.00,212.24 L144.25,214.50 L144.50,217.27 L144.75,220.49 L145.00,224.65 L145.25,229.50 L145.50,234.86 L145.75,240.62 L146.00,245.87 L146.25,250.93 L146.50,255.84 L146.75,260.65 L147.00,265.36 L147.25,269.82 L147.50,274.50 L147.75,280.38 L148.00,285.30 L148.25,287.94 L148.50,289.94 L148.75,291.58 L149.00,293.13 L149.25,294.69 L149.50,296.05 L149.75,296.91 L150.00,297.27 L150.25,297.55 L150.50,297.76 L150.75,297.91 L151.00,298.00 L151.25,298.06 L151.50,298.12 L151.75,298.17 L152.00,298.21 L152.25,297.82 L152.50,298.19 L152.75,298.15 L153.00,298.59 L153.25,298.14 L153.50,298.42 L153.75,298.15 L154.00,298.12 L154.25,298.46 L154.50,298.49 L154.75,298.30 L155.00,298.46 L155.25,298.42 L156.25,298.74 L157.25,298.72 L158.25,298.67 L159.25,298.38 L160.25,298.53 L161.25,297.69 L162.25,298.42 L163.25,298.20 L164.25,298.21 L165.25,298.32 L166.25,298.23 L167.25,298.30 L168.25,298.41 L169.25,298.89 L170.25,298.76 L171.25,298.78 L172.25,298.29 L173.25,298.65 L174.25,298.15 L175.25,299.26 L176.25,298.43 L177.25,298.48 L178.25,298.59 L179.25,299.02 L180.25,298.35 L181.25,298.71 L182.25,298.88 L183.25,298.23 L184.25,298.57 L185.25,298.67 L186.25,298.32 L187.25,298.34 L188.25,298.33 L189.25,298.16 L190.25,298.39 L191.25,298.45 L192.25,298.80 L193.25,298.55 L194.25,298.65 L195.25,298.69 L196.25,298.78 L197.25,298.55 L198.25,298.55 L199.25,298.45 L200.25,298.80 L201.25,298.51 L202.25,298.69 L203.25,298.87 L204.25,298.38 L205.25,298.69 L206.25,298.17 L207.25,298.93 L208.25,299.08 L209.25,299.28 L210.25,298.23 L211.25,298.00 L212.25,298.60 L213.25,297.88 L214.25,298.07 L215.25,298.77 L216.25,298.34 L217.25,298.67 L218.25,298.62 L219.25,298.21 L220.25,298.27 L221.25,298.19 L222.25,298.54 L223.25,298.71 L224.25,298.50 L225.25,298.33 L226.25,298.67 L227.25,298.29 L228.25,298.17 L229.25,298.93 L230.25,298.48 L231.25,298.12 L232.25,298.49 L233.25,298.43 L234.25,298.61 L235.25,298.86 L236.25,298.16 L237.25,298.44 L238.25,298.25 L239.25,298.53 L240.25,298.07 L241.25,298.08 L242.25,297.98 L242.60,298.15" fill="none" stroke="#2020b8" stroke-width="1.25" stroke-linejoin="round"/>
<line x1="49.40" y1="188.60" x2="49.40" y2="304.00" stroke="#444" stroke-width="1.0" />
<line x1="48.90" y1="303.50" x2="242.60" y2="303.50" stroke="#444" stroke-width="1.0" />
<line x1="46.40" y1="298.80" x2="49.40" y2="298.80" stroke="#444" stroke-width="1.0" />
<text x="43.80" y="300.80" font-size="8.4" font-weight="bold" fill="#111" stroke="#111" stroke-width="0.16" text-anchor="end" textLength="12.00" lengthAdjust="spacingAndGlyphs" >0.0</text>
<line x1="47.80" y1="289.73" x2="49.40" y2="289.73" stroke="#444" stroke-width="1.0" />
<line x1="46.40" y1="280.66" x2="49.40" y2="280.66" stroke="#444" stroke-width="1.0" />
<text x="43.80" y="282.66" font-size="8.4" font-weight="bold" fill="#111" stroke="#111" stroke-width="0.16" text-anchor="end" textLength="12.00" lengthAdjust="spacingAndGlyphs" >0.2</text>
<line x1="47.80" y1="271.59" x2="49.40" y2="271.59" stroke="#444" stroke-width="1.0" />
<line x1="46.40" y1="262.52" x2="49.40" y2="262.52" stroke="#444" stroke-width="1.0" />
<text x="43.80" y="264.52" font-size="8.4" font-weight="bold" fill="#111" stroke="#111" stroke-width="0.16" text-anchor="end" textLength="12.00" lengthAdjust="spacingAndGlyphs" >0.4</text>
<line x1="47.80" y1="253.45" x2="49.40" y2="253.45" stroke="#444" stroke-width="1.0" />
<line x1="46.40" y1="244.38" x2="49.40" y2="244.38" stroke="#444" stroke-width="1.0" />
<text x="43.80" y="246.38" font-size="8.4" font-weight="bold" fill="#111" stroke="#111" stroke-width="0.16" text-anchor="end" textLength="12.00" lengthAdjust="spacingAndGlyphs" >0.6</text>
<line x1="47.80" y1="235.31" x2="49.40" y2="235.31" stroke="#444" stroke-width="1.0" />
<line x1="46.40" y1="226.24" x2="49.40" y2="226.24" stroke="#444" stroke-width="1.0" />
<text x="43.80" y="228.24" font-size="8.4" font-weight="bold" fill="#111" stroke="#111" stroke-width="0.16" text-anchor="end" textLength="12.00" lengthAdjust="spacingAndGlyphs" >0.8</text>
<line x1="47.80" y1="217.17" x2="49.40" y2="217.17" stroke="#444" stroke-width="1.0" />
<line x1="46.40" y1="208.10" x2="49.40" y2="208.10" stroke="#444" stroke-width="1.0" />
<text x="43.80" y="210.10" font-size="8.4" font-weight="bold" fill="#111" stroke="#111" stroke-width="0.16" text-anchor="end" textLength="12.00" lengthAdjust="spacingAndGlyphs" >1.0</text>
<line x1="47.80" y1="199.03" x2="49.40" y2="199.03" stroke="#444" stroke-width="1.0" />
<line x1="46.40" y1="189.96" x2="49.40" y2="189.96" stroke="#444" stroke-width="1.0" />
<text x="43.80" y="191.96" font-size="8.4" font-weight="bold" fill="#111" stroke="#111" stroke-width="0.16" text-anchor="end" textLength="12.00" lengthAdjust="spacingAndGlyphs" >1.2</text>
<line x1="49.20" y1="303.50" x2="49.20" y2="306.50" stroke="#444" stroke-width="1.0" />
<text x="49.20" y="313.30" font-size="8.6" font-weight="bold" fill="#111" stroke="#111" stroke-width="0.16" text-anchor="middle" textLength="15.00" lengthAdjust="spacingAndGlyphs" >800</text>
<line x1="73.38" y1="303.50" x2="73.38" y2="305.10" stroke="#444" stroke-width="1.0" />
<line x1="97.55" y1="303.50" x2="97.55" y2="306.50" stroke="#444" stroke-width="1.0" />
<text x="97.55" y="313.30" font-size="8.6" font-weight="bold" fill="#111" stroke="#111" stroke-width="0.16" text-anchor="middle" textLength="20.00" lengthAdjust="spacingAndGlyphs" >1200</text>
<line x1="121.73" y1="303.50" x2="121.73" y2="305.10" stroke="#444" stroke-width="1.0" />
<line x1="145.90" y1="303.50" x2="145.90" y2="306.50" stroke="#444" stroke-width="1.0" />
<text x="145.90" y="313.30" font-size="8.6" font-weight="bold" fill="#111" stroke="#111" stroke-width="0.16" text-anchor="middle" textLength="20.00" lengthAdjust="spacingAndGlyphs" >1600</text>
<line x1="170.08" y1="303.50" x2="170.08" y2="305.10" stroke="#444" stroke-width="1.0" />
<line x1="194.26" y1="303.50" x2="194.26" y2="306.50" stroke="#444" stroke-width="1.0" />
<text x="194.26" y="313.30" font-size="8.6" font-weight="bold" fill="#111" stroke="#111" stroke-width="0.16" text-anchor="middle" textLength="20.00" lengthAdjust="spacingAndGlyphs" >2000</text>
<line x1="218.43" y1="303.50" x2="218.43" y2="305.10" stroke="#444" stroke-width="1.0" />
<line x1="242.61" y1="303.50" x2="242.61" y2="306.50" stroke="#444" stroke-width="1.0" />
<text x="242.61" y="313.30" font-size="8.6" font-weight="bold" fill="#111" stroke="#111" stroke-width="0.16" text-anchor="middle" textLength="20.00" lengthAdjust="spacingAndGlyphs" >2400</text>
<path d="M54.00,459.26 L55.00,459.35 L56.00,458.99 L57.00,458.83 L58.00,459.23 L59.00,458.54 L60.00,459.09 L61.00,458.90 L62.00,458.87 L63.00,459.29 L64.00,459.14 L65.00,458.95 L66.00,459.17 L67.00,459.42 L68.00,459.39 L69.00,459.29 L70.00,459.27 L71.00,459.64 L72.00,459.07 L73.00,459.11 L74.00,459.39 L75.00,459.66 L76.00,459.16 L77.00,459.43 L78.00,459.30 L79.00,459.16 L80.00,459.19 L81.00,458.66 L82.00,459.50 L83.00,458.78 L84.00,458.70 L85.00,458.77 L86.00,458.79 L87.00,457.94 L88.00,458.31 L89.00,458.65 L90.00,458.58 L91.00,458.90 L92.00,459.33 L93.00,458.59 L94.00,458.95 L95.00,458.48 L95.25,458.66 L95.50,458.02 L95.75,458.45 L96.00,458.48 L96.25,458.44 L96.50,458.39 L96.75,458.34 L97.00,458.30 L97.25,458.26 L97.50,458.21 L97.75,458.16 L98.00,458.11 L98.25,458.05 L98.50,457.98 L98.75,457.91 L99.00,457.83 L99.25,457.74 L99.50,457.63 L99.75,457.49 L100.00,457.34 L100.25,457.17 L100.50,456.99 L100.75,456.79 L101.00,456.60 L101.25,456.40 L101.50,456.20 L101.75,456.00 L102.00,455.79 L102.25,455.58 L102.50,455.36 L102.75,455.12 L103.00,454.88 L103.25,454.62 L103.50,454.35 L103.75,454.06 L104.00,453.75 L104.25,453.42 L104.50,453.07 L104.75,452.70 L105.00,452.31 L105.25,451.89 L105.50,451.45 L105.75,450.98 L106.00,450.50 L106.25,449.98 L106.50,449.43 L106.75,448.84 L107.00,448.20 L107.25,447.54 L107.50,446.83 L107.75,446.09 L108.00,445.32 L108.25,444.50 L108.50,443.60 L108.75,442.62 L109.00,441.59 L109.25,440.51 L109.50,439.40 L109.75,438.27 L110.00,437.06 L110.25,435.76 L110.50,434.45 L110.75,433.20 L111.00,432.05 L111.25,430.92 L111.50,429.84 L111.75,428.84 L112.00,428.00 L112.25,427.20 L112.50,426.42 L112.75,425.83 L113.00,425.60 L113.25,425.63 L113.50,425.70 L113.75,425.81 L114.00,426.01 L114.25,426.68 L114.50,427.69 L114.75,428.79 L115.00,429.88 L115.25,431.10 L115.50,432.42 L115.75,433.77 L116.00,435.22 L116.25,436.77 L116.50,438.34 L116.75,439.87 L117.00,441.28 L117.25,442.54 L117.50,443.73 L117.75,444.86 L118.00,445.93 L118.25,446.93 L118.50,447.87 L118.75,448.79 L119.00,449.68 L119.25,450.51 L119.50,451.25 L119.75,451.89 L120.00,452.42 L120.25,452.89 L120.50,453.31 L120.75,453.70 L121.00,454.04 L121.25,454.36 L121.50,454.67 L121.75,454.97 L122.00,455.23 L122.25,455.42 L122.50,455.54 L122.75,455.64 L123.00,455.72 L123.25,455.80 L123.50,455.87 L123.75,455.92 L124.00,455.97 L124.25,455.99 L124.50,456.00 L124.75,455.99 L125.00,455.95 L125.25,455.89 L125.50,455.82 L125.75,455.73 L126.00,455.64 L126.25,455.55 L126.50,455.46 L126.75,455.37 L127.00,455.30 L127.25,455.23 L127.50,455.15 L127.75,455.07 L128.00,454.99 L128.25,454.90 L128.50,454.83 L128.75,454.76 L129.00,454.70 L129.25,454.65 L129.50,454.61 L129.75,454.60 L130.00,454.62 L130.25,454.70 L130.50,454.82 L130.75,454.95 L131.00,455.07 L131.25,455.16 L131.50,455.20 L131.75,455.17 L132.00,455.10 L132.25,454.99 L132.50,454.84 L132.75,454.68 L133.00,454.50 L133.25,454.26 L133.50,453.93 L133.75,453.53 L134.00,453.06 L134.25,452.54 L134.50,452.00 L134.75,451.40 L135.00,450.71 L135.25,449.93 L135.50,449.06 L135.75,448.11 L136.00,447.07 L136.25,445.88 L136.50,444.52 L136.75,443.02 L137.00,441.39 L137.25,439.64 L137.50,437.66 L137.75,435.45 L138.00,433.05 L138.25,430.52 L138.50,427.85 L138.75,424.95 L139.00,421.87 L139.25,418.65 L139.50,415.28 L139.75,411.68 L140.00,407.97 L140.25,404.26 L140.50,400.44 L140.75,396.60 L141.00,393.00 L141.25,389.62 L141.50,386.41 L141.75,383.52 L142.00,380.91 L142.25,378.43 L142.50,376.51 L142.75,375.37 L143.00,374.47 L143.25,374.02 L143.50,374.36 L143.75,375.58 L144.00,377.28 L144.25,379.29 L144.50,382.21 L144.75,385.76 L145.00,389.58 L145.25,394.05 L145.50,398.98 L145.75,404.00 L146.00,409.16 L146.25,414.52 L146.50,420.00 L146.75,425.87 L147.00,431.83 L147.25,436.93 L147.50,441.36 L147.75,445.17 L148.00,448.07 L148.25,450.56 L148.50,452.52 L148.75,453.66 L149.00,454.38 L149.25,454.99 L149.50,455.50 L149.75,455.91 L150.00,456.26 L150.25,456.55 L150.50,456.80 L150.75,457.03 L151.00,457.24 L151.25,457.44 L151.50,457.63 L151.75,457.79 L152.00,457.94 L152.25,457.78 L152.50,457.59 L152.75,457.78 L153.00,458.45 L153.25,458.27 L153.50,458.85 L153.75,458.21 L154.00,458.44 L154.25,458.54 L154.50,458.30 L154.75,458.69 L155.00,458.53 L155.25,458.58 L156.25,458.80 L157.25,458.76 L158.25,458.47 L159.25,459.29 L160.25,459.14 L161.25,458.76 L162.25,459.41 L163.25,458.73 L164.25,458.78 L165.25,458.79 L166.25,459.19 L167.25,458.84 L168.25,458.77 L169.25,459.08 L170.25,458.91 L171.25,459.00 L172.25,458.77 L173.25,459.23 L174.25,458.90 L175.25,459.19 L176.25,458.73 L177.25,459.46 L178.25,458.81 L179.25,458.50 L180.25,458.59 L181.25,458.74 L182.25,458.50 L183.25,458.97 L184.25,458.74 L185.25,458.90 L186.25,459.51 L187.25,458.54 L188.25,458.38 L189.25,459.05 L190.25,458.63 L191.25,459.11 L192.25,459.62 L193.25,458.58 L194.25,458.66 L195.25,458.91 L196.25,459.33 L197.25,459.57 L198.25,458.94 L199.25,458.85 L200.25,459.29 L201.25,458.78 L202.25,459.24 L203.25,459.24 L204.25,459.14 L205.25,458.96 L206.25,459.07 L207.25,458.83 L208.25,458.94 L209.25,458.78 L210.25,459.10 L211.25,459.32 L212.25,459.13 L213.25,459.07 L214.25,459.48 L215.25,458.39 L216.25,458.79 L217.25,458.64 L218.25,459.16 L219.25,458.70 L220.25,458.37 L221.25,458.60 L222.25,459.07 L223.25,459.08 L224.25,458.95 L225.25,458.86 L226.25,458.86 L227.25,458.98 L228.25,458.71 L229.25,458.61 L230.25,458.93 L231.25,459.07 L232.25,458.38 L233.25,458.28 L234.25,458.39 L235.25,458.10 L236.25,458.69 L237.25,458.74 L238.25,458.82 L239.25,458.79 L240.25,458.32 L241.25,458.91 L242.20,458.16" fill="none" stroke="#111" stroke-width="1.25" stroke-linejoin="round"/>
<path d="M54.00,459.26 L55.00,459.35 L56.00,458.99 L57.00,458.83 L58.00,459.23 L59.00,458.54 L60.00,459.09 L61.00,458.90 L62.00,458.87 L63.00,459.29 L64.00,459.14 L65.00,458.95 L66.00,459.17 L67.00,459.42 L68.00,459.39 L69.00,459.29 L70.00,459.27 L71.00,459.64 L72.00,459.07 L73.00,459.11 L74.00,459.39 L75.00,459.66 L76.00,459.15 L77.00,459.40 L78.00,459.24 L79.00,459.06 L80.00,459.05 L81.00,458.49 L82.00,459.30 L83.00,458.55 L84.00,458.45 L85.00,458.51 L86.00,458.50 L87.00,457.64 L88.00,458.01 L89.00,458.35 L90.00,458.28 L91.00,458.60 L92.00,459.03 L93.00,458.29 L94.00,458.65 L95.00,458.08 L95.25,458.22 L95.50,457.53 L95.75,457.91 L96.00,457.88 L96.25,457.78 L96.50,457.68 L96.75,457.59 L97.00,457.50 L97.25,457.42 L97.50,457.33 L97.75,457.25 L98.00,457.16 L98.25,457.07 L98.50,456.97 L98.75,456.87 L99.00,456.75 L99.25,456.62 L99.50,456.47 L99.75,456.29 L100.00,456.11 L100.25,455.90 L100.50,455.69 L100.75,455.47 L101.00,455.25 L101.25,455.02 L101.50,454.80 L101.75,454.58 L102.00,454.36 L102.25,454.15 L102.50,453.92 L102.75,453.69 L103.00,453.44 L103.25,453.17 L103.50,452.88 L103.75,452.57 L104.00,452.21 L104.25,451.81 L104.50,451.35 L104.75,450.86 L105.00,450.33 L105.25,449.77 L105.50,449.20 L105.75,448.60 L106.00,448.00 L106.25,447.38 L106.50,446.74 L106.75,446.06 L107.00,445.36 L107.25,444.61 L107.50,443.84 L107.75,443.02 L108.00,442.16 L108.25,441.23 L108.50,440.18 L108.75,439.04 L109.00,437.87 L109.25,436.72 L109.50,435.63 L109.75,434.55 L110.00,433.47 L110.25,432.36 L110.50,431.20 L110.75,429.95 L111.00,428.62 L111.25,427.28 L111.50,425.99 L111.75,424.75 L112.00,423.44 L112.25,422.27 L112.50,421.50 L112.75,421.04 L113.00,420.70 L113.25,420.61 L113.50,420.94 L113.75,421.56 L114.00,422.35 L114.25,423.66 L114.50,425.26 L114.75,426.79 L115.00,428.23 L115.25,429.69 L115.50,431.20 L115.75,432.82 L116.00,434.56 L116.25,436.33 L116.50,438.09 L116.75,439.75 L117.00,441.26 L117.25,442.56 L117.50,443.76 L117.75,444.86 L118.00,445.90 L118.25,446.91 L118.50,447.90 L118.75,448.90 L119.00,449.89 L119.25,450.83 L119.50,451.67 L119.75,452.38 L120.00,452.96 L120.25,453.49 L120.50,453.97 L120.75,454.39 L121.00,454.75 L121.25,455.06 L121.50,455.33 L121.75,455.58 L122.00,455.79 L122.25,455.95 L122.50,456.03 L122.75,456.09 L123.00,456.14 L123.25,456.19 L123.50,456.23 L123.75,456.26 L124.00,456.28 L124.25,456.30 L124.50,456.30 L124.75,456.28 L125.00,456.24 L125.25,456.18 L125.50,456.10 L125.75,456.00 L126.00,455.90 L126.25,455.79 L126.50,455.69 L126.75,455.59 L127.00,455.50 L127.25,455.41 L127.50,455.32 L127.75,455.21 L128.00,455.11 L128.25,455.00 L128.50,454.90 L128.75,454.81 L129.00,454.73 L129.25,454.66 L129.50,454.62 L129.75,454.60 L130.00,454.62 L130.25,454.67 L130.50,454.75 L130.75,454.84 L131.00,454.92 L131.25,454.98 L131.50,455.00 L131.75,454.96 L132.00,454.86 L132.25,454.69 L132.50,454.49 L132.75,454.25 L133.00,454.00 L133.25,453.66 L133.50,453.19 L133.75,452.62 L134.00,452.01 L134.25,451.37 L134.50,450.70 L134.75,449.97 L135.00,449.17 L135.25,448.31 L135.50,447.39 L135.75,446.39 L136.00,445.30 L136.25,444.09 L136.50,442.76 L136.75,441.31 L137.00,439.68 L137.25,437.82 L137.50,435.75 L137.75,433.48 L138.00,430.92 L138.25,427.98 L138.50,424.82 L138.75,421.63 L139.00,418.48 L139.25,415.26 L139.50,411.99 L139.75,408.67 L140.00,405.27 L140.25,401.77 L140.50,398.33 L140.75,395.02 L141.00,391.72 L141.25,388.64 L141.50,385.97 L141.75,383.47 L142.00,381.30 L142.25,379.74 L142.50,378.44 L142.75,377.41 L143.00,377.00 L143.25,377.47 L143.50,378.64 L143.75,380.18 L144.00,382.19 L144.25,385.16 L144.50,388.60 L144.75,392.17 L145.00,396.16 L145.25,400.49 L145.50,405.00 L145.75,409.82 L146.00,414.95 L146.25,420.02 L146.50,424.93 L146.75,429.81 L147.00,434.35 L147.25,438.35 L147.50,442.07 L147.75,445.34 L148.00,448.03 L148.25,450.49 L148.50,452.50 L148.75,453.66 L149.00,454.39 L149.25,455.00 L149.50,455.51 L149.75,455.93 L150.00,456.27 L150.25,456.56 L150.50,456.80 L150.75,457.01 L151.00,457.21 L151.25,457.40 L151.50,457.57 L151.75,457.72 L152.00,457.86 L152.25,457.69 L152.50,457.49 L152.75,457.67 L153.00,458.35 L153.25,458.17 L153.50,458.76 L153.75,458.12 L154.00,458.36 L154.25,458.47 L154.50,458.23 L154.75,458.63 L155.00,458.47 L155.25,458.53 L156.25,458.77 L157.25,458.74 L158.25,458.46 L159.25,459.29 L160.25,459.14 L161.25,458.76 L162.25,459.41 L163.25,458.73 L164.25,458.78 L165.25,458.80 L166.25,459.19 L167.25,458.84 L168.25,458.77 L169.25,459.08 L170.25,458.91 L171.25,459.00 L172.25,458.77 L173.25,459.23 L174.25,458.91 L175.25,459.19 L176.25,458.73 L177.25,459.47 L178.25,458.82 L179.25,458.50 L180.25,458.59 L181.25,458.74 L182.25,458.50 L183.25,458.97 L184.25,458.74 L185.25,458.90 L186.25,459.51 L187.25,458.54 L188.25,458.38 L189.25,459.05 L190.25,458.63 L191.25,459.11 L192.25,459.62 L193.25,458.58 L194.25,458.66 L195.25,458.91 L196.25,459.33 L197.25,459.57 L198.25,458.94 L199.25,458.85 L200.25,459.29 L201.25,458.78 L202.25,459.24 L203.25,459.23 L204.25,459.14 L205.25,458.96 L206.25,459.07 L207.25,458.82 L208.25,458.94 L209.25,458.78 L210.25,459.10 L211.25,459.31 L212.25,459.12 L213.25,459.06 L214.25,459.46 L215.25,458.37 L216.25,458.77 L217.25,458.62 L218.25,459.13 L219.25,458.68 L220.25,458.34 L221.25,458.57 L222.25,459.04 L223.25,459.04 L224.25,458.91 L225.25,458.82 L226.25,458.82 L227.25,458.93 L228.25,458.66 L229.25,458.55 L230.25,458.88 L231.25,459.01 L232.25,458.32 L233.25,458.21 L234.25,458.32 L235.25,458.02 L236.25,458.61 L237.25,458.66 L238.25,458.74 L239.25,458.71 L240.25,458.23 L241.25,458.82 L242.20,458.06" fill="none" stroke="#cc2a2a" stroke-width="1.25" stroke-linejoin="round"/>
<path d="M54.00,459.27 L55.00,458.81 L56.00,458.97 L57.00,458.71 L58.00,459.10 L59.00,458.63 L60.00,458.81 L61.00,458.35 L62.00,458.16 L63.00,458.78 L64.00,459.05 L65.00,458.74 L66.00,458.61 L67.00,458.67 L68.00,458.39 L69.00,458.77 L70.00,459.19 L71.00,459.10 L72.00,459.49 L73.00,458.76 L74.00,458.93 L75.00,459.20 L76.00,458.73 L77.00,459.34 L78.00,459.58 L79.00,458.65 L80.00,458.84 L81.00,458.50 L82.00,458.57 L83.00,458.79 L84.00,458.42 L85.00,458.30 L86.00,458.45 L87.00,457.65 L88.00,458.67 L89.00,458.38 L90.00,458.66 L91.00,457.87 L92.00,458.18 L93.00,458.55 L94.00,458.75 L95.00,459.01 L95.25,457.87 L95.50,458.42 L95.75,458.36 L96.00,458.51 L96.25,458.49 L96.50,458.47 L96.75,458.44 L97.00,458.41 L97.25,458.39 L97.50,458.36 L97.75,458.33 L98.00,458.30 L98.25,458.27 L98.50,458.23 L98.75,458.18 L99.00,458.12 L99.25,458.06 L99.50,457.99 L99.75,457.92 L100.00,457.84 L100.25,457.74 L100.50,457.62 L100.75,457.47 L101.00,457.30 L101.25,457.10 L101.50,456.90 L101.75,456.68 L102.00,456.46 L102.25,456.23 L102.50,456.00 L102.75,455.76 L103.00,455.49 L103.25,455.20 L103.50,454.90 L103.75,454.60 L104.00,454.32 L104.25,454.05 L104.50,453.82 L104.75,453.62 L105.00,453.43 L105.25,453.25 L105.50,453.04 L105.75,452.80 L106.00,452.50 L106.25,452.08 L106.50,451.50 L106.75,450.80 L107.00,450.03 L107.25,449.22 L107.50,448.42 L107.75,447.65 L108.00,446.94 L108.25,446.26 L108.50,445.59 L108.75,444.90 L109.00,444.18 L109.25,443.41 L109.50,442.55 L109.75,441.60 L110.00,440.43 L110.25,439.07 L110.50,437.64 L110.75,436.22 L111.00,434.73 L111.25,433.20 L111.50,431.74 L111.75,430.41 L112.00,429.10 L112.25,427.89 L112.50,426.85 L112.75,426.00 L113.00,425.16 L113.25,424.43 L113.50,423.94 L113.75,423.81 L114.00,424.14 L114.25,424.81 L114.50,425.65 L114.75,426.62 L115.00,427.99 L115.25,429.59 L115.50,431.20 L115.75,432.81 L116.00,434.55 L116.25,436.32 L116.50,438.08 L116.75,439.75 L117.00,441.26 L117.25,442.56 L117.50,443.76 L117.75,444.86 L118.00,445.90 L118.25,446.91 L118.50,447.89 L118.75,448.88 L119.00,449.85 L119.25,450.77 L119.50,451.61 L119.75,452.36 L120.00,453.02 L120.25,453.63 L120.50,454.19 L120.75,454.71 L121.00,455.17 L121.25,455.58 L121.50,455.94 L121.75,456.27 L122.00,456.57 L122.25,456.84 L122.50,457.11 L122.75,457.38 L123.00,457.66 L123.25,457.93 L123.50,458.18 L123.75,458.41 L124.00,458.59 L124.25,458.73 L124.50,458.80 L124.75,458.84 L125.00,458.87 L125.25,458.90 L125.50,458.92 L125.75,458.95 L126.00,458.97 L126.25,458.98 L126.50,458.99 L126.75,459.00 L127.00,459.00 L127.25,459.00 L127.50,458.98 L127.75,458.97 L128.00,458.94 L128.25,458.91 L128.50,458.87 L128.75,458.83 L129.00,458.79 L129.25,458.75 L129.50,458.70 L129.75,458.65 L130.00,458.60 L130.25,458.55 L130.50,458.48 L130.75,458.41 L131.00,458.32 L131.25,458.23 L131.50,458.13 L131.75,458.02 L132.00,457.90 L132.25,457.76 L132.50,457.60 L132.75,457.41 L133.00,457.20 L133.25,456.94 L133.50,456.63 L133.75,456.27 L134.00,455.87 L134.25,455.41 L134.50,454.92 L134.75,454.39 L135.00,453.76 L135.25,453.01 L135.50,452.17 L135.75,451.26 L136.00,450.30 L136.25,449.30 L136.50,448.27 L136.75,447.19 L137.00,446.01 L137.25,444.70 L137.50,443.22 L137.75,441.54 L138.00,439.33 L138.25,436.67 L138.50,433.79 L138.75,430.94 L139.00,428.12 L139.25,425.21 L139.50,422.09 L139.75,418.69 L140.00,414.81 L140.25,410.59 L140.50,406.25 L140.75,401.68 L141.00,397.00 L141.25,392.22 L141.50,387.39 L141.75,382.79 L142.00,378.38 L142.25,373.33 L142.50,365.63 L142.75,360.11 L143.00,363.45 L143.25,370.72 L143.50,373.02 L143.75,375.13 L144.00,380.34 L144.25,387.52 L144.50,394.63 L144.75,400.14 L145.00,405.04 L145.25,409.65 L145.50,414.09 L145.75,418.51 L146.00,422.92 L146.25,427.21 L146.50,431.50 L146.75,436.16 L147.00,440.54 L147.25,443.56 L147.50,445.89 L147.75,447.87 L148.00,449.77 L148.25,451.72 L148.50,453.38 L148.75,454.33 L149.00,454.89 L149.25,455.37 L149.50,455.76 L149.75,456.08 L150.00,456.35 L150.25,456.59 L150.50,456.80 L150.75,457.00 L151.00,457.20 L151.25,457.38 L151.50,457.55 L151.75,457.71 L152.00,457.85 L152.25,458.05 L152.50,458.24 L152.75,458.16 L153.00,457.81 L153.25,458.14 L153.50,458.02 L153.75,458.67 L154.00,458.76 L154.25,458.59 L154.50,458.36 L154.75,458.43 L155.00,458.90 L155.25,458.59 L156.25,458.68 L157.25,458.99 L158.25,458.72 L159.25,458.78 L160.25,458.46 L161.25,458.71 L162.25,458.59 L163.25,458.71 L164.25,458.77 L165.25,459.07 L166.25,458.31 L167.25,458.73 L168.25,459.06 L169.25,459.20 L170.25,459.03 L171.25,459.11 L172.25,458.87 L173.25,459.16 L174.25,458.69 L175.25,459.31 L176.25,459.07 L177.25,458.97 L178.25,458.76 L179.25,459.15 L180.25,459.53 L181.25,459.07 L182.25,458.94 L183.25,459.27 L184.25,459.00 L185.25,458.93 L186.25,458.91 L187.25,459.08 L188.25,458.98 L189.25,458.93 L190.25,458.98 L191.25,459.15 L192.25,459.07 L193.25,458.43 L194.25,459.23 L195.25,459.49 L196.25,459.15 L197.25,459.45 L198.25,459.64 L199.25,458.96 L200.25,459.07 L201.25,458.80 L202.25,458.53 L203.25,459.32 L204.25,458.83 L205.25,459.03 L206.25,459.28 L207.25,459.22 L208.25,458.97 L209.25,459.37 L210.25,458.78 L211.25,459.10 L212.25,459.54 L213.25,458.55 L214.25,459.22 L215.25,458.45 L216.25,458.62 L217.25,459.14 L218.25,458.20 L219.25,458.27 L220.25,459.06 L221.25,458.95 L222.25,459.00 L223.25,458.97 L224.25,459.14 L225.25,459.23 L226.25,459.13 L227.25,458.75 L228.25,459.02 L229.25,458.69 L230.25,458.43 L231.25,458.68 L232.25,458.74 L233.25,458.61 L234.25,458.73 L235.25,458.95 L236.25,458.63 L237.25,459.09 L238.25,458.51 L239.25,458.36 L240.25,458.42 L241.25,458.68 L242.20,457.87" fill="none" stroke="#2020b8" stroke-width="1.25" stroke-linejoin="round"/>
<line x1="47.50" y1="349.50" x2="47.50" y2="464.90" stroke="#444" stroke-width="1.0" />
<line x1="47.00" y1="464.40" x2="242.60" y2="464.40" stroke="#444" stroke-width="1.0" />
<line x1="44.50" y1="459.30" x2="47.50" y2="459.30" stroke="#444" stroke-width="1.0" />
<text x="42.00" y="461.50" font-size="8.4" font-weight="bold" fill="#111" stroke="#111" stroke-width="0.16" text-anchor="end" textLength="12.00" lengthAdjust="spacingAndGlyphs" >0.0</text>
<line x1="45.90" y1="449.28" x2="47.50" y2="449.28" stroke="#444" stroke-width="1.0" />
<line x1="44.50" y1="439.26" x2="47.50" y2="439.26" stroke="#444" stroke-width="1.0" />
<text x="42.00" y="441.46" font-size="8.4" font-weight="bold" fill="#111" stroke="#111" stroke-width="0.16" text-anchor="end" textLength="12.00" lengthAdjust="spacingAndGlyphs" >0.2</text>
<line x1="45.90" y1="429.24" x2="47.50" y2="429.24" stroke="#444" stroke-width="1.0" />
<line x1="44.50" y1="419.22" x2="47.50" y2="419.22" stroke="#444" stroke-width="1.0" />
<text x="42.00" y="421.42" font-size="8.4" font-weight="bold" fill="#111" stroke="#111" stroke-width="0.16" text-anchor="end" textLength="12.00" lengthAdjust="spacingAndGlyphs" >0.4</text>
<line x1="45.90" y1="409.20" x2="47.50" y2="409.20" stroke="#444" stroke-width="1.0" />
<line x1="44.50" y1="399.18" x2="47.50" y2="399.18" stroke="#444" stroke-width="1.0" />
<text x="42.00" y="401.38" font-size="8.4" font-weight="bold" fill="#111" stroke="#111" stroke-width="0.16" text-anchor="end" textLength="12.00" lengthAdjust="spacingAndGlyphs" >0.6</text>
<line x1="45.90" y1="389.16" x2="47.50" y2="389.16" stroke="#444" stroke-width="1.0" />
<line x1="44.50" y1="379.14" x2="47.50" y2="379.14" stroke="#444" stroke-width="1.0" />
<text x="42.00" y="381.34" font-size="8.4" font-weight="bold" fill="#111" stroke="#111" stroke-width="0.16" text-anchor="end" textLength="12.00" lengthAdjust="spacingAndGlyphs" >0.8</text>
<line x1="45.90" y1="369.12" x2="47.50" y2="369.12" stroke="#444" stroke-width="1.0" />
<line x1="44.50" y1="359.10" x2="47.50" y2="359.10" stroke="#444" stroke-width="1.0" />
<text x="42.00" y="361.30" font-size="8.4" font-weight="bold" fill="#111" stroke="#111" stroke-width="0.16" text-anchor="end" textLength="12.00" lengthAdjust="spacingAndGlyphs" >1.0</text>
<line x1="48.30" y1="464.40" x2="48.30" y2="467.40" stroke="#444" stroke-width="1.0" />
<text x="48.30" y="474.80" font-size="8.6" font-weight="bold" fill="#111" stroke="#111" stroke-width="0.16" text-anchor="middle" textLength="15.00" lengthAdjust="spacingAndGlyphs" >800</text>
<line x1="72.60" y1="464.40" x2="72.60" y2="466.00" stroke="#444" stroke-width="1.0" />
<line x1="96.90" y1="464.40" x2="96.90" y2="467.40" stroke="#444" stroke-width="1.0" />
<text x="96.90" y="474.80" font-size="8.6" font-weight="bold" fill="#111" stroke="#111" stroke-width="0.16" text-anchor="middle" textLength="20.00" lengthAdjust="spacingAndGlyphs" >1200</text>
<line x1="121.20" y1="464.40" x2="121.20" y2="466.00" stroke="#444" stroke-width="1.0" />
<line x1="145.50" y1="464.40" x2="145.50" y2="467.40" stroke="#444" stroke-width="1.0" />
<text x="145.50" y="474.80" font-size="8.6" font-weight="bold" fill="#111" stroke="#111" stroke-width="0.16" text-anchor="middle" textLength="20.00" lengthAdjust="spacingAndGlyphs" >1600</text>
<line x1="169.80" y1="464.40" x2="169.80" y2="466.00" stroke="#444" stroke-width="1.0" />
<line x1="194.10" y1="464.40" x2="194.10" y2="467.40" stroke="#444" stroke-width="1.0" />
<text x="194.10" y="474.80" font-size="8.6" font-weight="bold" fill="#111" stroke="#111" stroke-width="0.16" text-anchor="middle" textLength="20.00" lengthAdjust="spacingAndGlyphs" >2000</text>
<line x1="218.40" y1="464.40" x2="218.40" y2="466.00" stroke="#444" stroke-width="1.0" />
<line x1="242.70" y1="464.40" x2="242.70" y2="467.40" stroke="#444" stroke-width="1.0" />
<text x="242.70" y="474.80" font-size="8.6" font-weight="bold" fill="#111" stroke="#111" stroke-width="0.16" text-anchor="middle" textLength="20.00" lengthAdjust="spacingAndGlyphs" >2400</text>
<clipPath id="c27"><rect x="285.50" y="27.50" width="203.50" height="110.70"/></clipPath>
<g clip-path="url(#c27)">
<path d="M285.50,138.00h3.05v-1.23h-3.05zM288.55,138.00h3.05v-5.85h-3.05zM291.61,138.00h3.05v-4.62h-3.05zM294.66,138.00h3.05v-4.62h-3.05zM297.71,138.00h3.05v-3.70h-3.05zM300.76,138.00h3.05v-8.62h-3.05zM303.81,138.00h3.05v-8.32h-3.05zM306.87,138.00h3.05v-11.40h-3.05zM309.92,138.00h3.05v-10.16h-3.05zM312.97,138.00h3.05v-11.40h-3.05zM316.02,138.00h3.05v-8.62h-3.05zM319.08,138.00h3.05v-16.94h-3.05zM322.13,138.00h3.05v-16.94h-3.05zM325.18,138.00h3.05v-25.87h-3.05zM328.24,138.00h3.05v-24.95h-3.05zM331.29,138.00h3.05v-26.18h-3.05zM334.34,138.00h3.05v-31.72h-3.05zM337.39,138.00h3.05v-34.80h-3.05zM340.44,138.00h3.05v-31.11h-3.05zM343.50,138.00h3.05v-41.89h-3.05zM346.55,138.00h3.05v-33.57h-3.05zM349.60,138.00h3.05v-28.03h-3.05zM352.65,138.00h3.05v-39.73h-3.05zM355.71,138.00h3.05v-36.96h-3.05zM358.76,138.00h3.05v-40.35h-3.05zM361.81,138.00h3.05v-42.81h-3.05zM364.87,138.00h3.05v-41.58h-3.05zM367.92,138.00h3.05v-40.96h-3.05zM370.97,138.00h3.05v-48.05h-3.05zM374.02,138.00h3.05v-53.59h-3.05zM377.07,138.00h3.05v-54.52h-3.05zM380.13,138.00h3.05v-55.13h-3.05zM383.18,138.00h3.05v-65.91h-3.05zM386.23,138.00h3.05v-53.59h-3.05zM389.28,138.00h3.05v-46.51h-3.05zM392.34,138.00h3.05v-33.88h-3.05zM395.39,138.00h3.05v-9.24h-3.05zM398.44,138.00h3.05v-3.08h-3.05zM401.50,138.00h3.05v-0.92h-3.05z" fill="#000000" fill-opacity="1.0"/>
<path d="M285.50,138.00h3.05v-0.92h-3.05zM288.55,138.00h3.05v-3.08h-3.05zM291.61,138.00h3.05v-3.70h-3.05zM294.66,138.00h3.05v-3.70h-3.05zM297.71,138.00h3.05v-3.08h-3.05zM300.76,138.00h3.05v-5.85h-3.05zM303.81,138.00h3.05v-8.32h-3.05zM306.87,138.00h3.05v-9.24h-3.05zM309.92,138.00h3.05v-10.16h-3.05zM312.97,138.00h3.05v-11.40h-3.05zM316.02,138.00h3.05v-11.40h-3.05zM319.08,138.00h3.05v-14.78h-3.05zM322.13,138.00h3.05v-15.40h-3.05zM325.18,138.00h3.05v-22.79h-3.05zM328.24,138.00h3.05v-24.64h-3.05zM331.29,138.00h3.05v-28.03h-3.05zM334.34,138.00h3.05v-27.41h-3.05zM337.39,138.00h3.05v-28.64h-3.05zM340.44,138.00h3.05v-28.03h-3.05zM343.50,138.00h3.05v-37.88h-3.05zM346.55,138.00h3.05v-29.88h-3.05zM349.60,138.00h3.05v-35.42h-3.05zM352.65,138.00h3.05v-36.65h-3.05zM355.71,138.00h3.05v-37.88h-3.05zM358.76,138.00h3.05v-36.04h-3.05zM361.81,138.00h3.05v-40.04h-3.05zM364.87,138.00h3.05v-38.50h-3.05zM367.92,138.00h3.05v-40.04h-3.05zM370.97,138.00h3.05v-41.58h-3.05zM374.02,138.00h3.05v-49.28h-3.05zM377.07,138.00h3.05v-52.36h-3.05zM380.13,138.00h3.05v-52.98h-3.05zM383.18,138.00h3.05v-52.36h-3.05zM386.23,138.00h3.05v-56.67h-3.05zM389.28,138.00h3.05v-56.67h-3.05zM392.34,138.00h3.05v-42.20h-3.05zM395.39,138.00h3.05v-18.79h-3.05zM398.44,138.00h3.05v-7.39h-3.05zM401.50,138.00h3.05v-2.16h-3.05zM404.55,138.00h3.05v-0.62h-3.05z" fill="#ff0000" fill-opacity="0.7"/>
<path d="M285.50,138.00v-0.92M288.55,138.00v-3.08M291.61,138.00v-3.70M294.66,138.00v-3.70M297.71,138.00v-3.08M300.76,138.00v-5.85M303.81,138.00v-8.32M306.87,138.00v-9.24M309.92,138.00v-10.16M312.97,138.00v-11.40M316.02,138.00v-11.40M319.08,138.00v-14.78M322.13,138.00v-15.40M325.18,138.00v-22.79M328.24,138.00v-24.64M331.29,138.00v-28.03M334.34,138.00v-27.41M337.39,138.00v-28.64M340.44,138.00v-28.03M343.50,138.00v-37.88M346.55,138.00v-29.88M349.60,138.00v-35.42M352.65,138.00v-36.65M355.71,138.00v-37.88M358.76,138.00v-36.04M361.81,138.00v-40.04M364.87,138.00v-38.50M367.92,138.00v-40.04M370.97,138.00v-41.58M374.02,138.00v-49.28M377.07,138.00v-52.36M380.13,138.00v-52.98M383.18,138.00v-52.36M386.23,138.00v-56.67M389.28,138.00v-56.67M392.34,138.00v-42.20M395.39,138.00v-18.79M398.44,138.00v-7.39M401.50,138.00v-2.16M404.55,138.00v-0.62" fill="none" stroke="#900000" stroke-opacity="0.3" stroke-width="0.6"/>
<path d="M285.50,138.00h3.05v-0.31h-3.05zM288.55,138.00h3.05v-0.92h-3.05zM291.61,138.00h3.05v-1.54h-3.05zM294.66,138.00h3.05v-1.85h-3.05zM297.71,138.00h3.05v-2.16h-3.05zM300.76,138.00h3.05v-1.85h-3.05zM303.81,138.00h3.05v-3.08h-3.05zM306.87,138.00h3.05v-3.08h-3.05zM309.92,138.00h3.05v-3.70h-3.05zM312.97,138.00h3.05v-4.31h-3.05zM316.02,138.00h3.05v-5.85h-3.05zM319.08,138.00h3.05v-6.47h-3.05zM322.13,138.00h3.05v-6.47h-3.05zM325.18,138.00h3.05v-7.08h-3.05zM328.24,138.00h3.05v-7.08h-3.05zM331.29,138.00h3.05v-6.47h-3.05zM334.34,138.00h3.05v-10.78h-3.05zM337.39,138.00h3.05v-9.55h-3.05zM340.44,138.00h3.05v-9.55h-3.05zM343.50,138.00h3.05v-10.16h-3.05zM346.55,138.00h3.05v-12.01h-3.05zM349.60,138.00h3.05v-13.86h-3.05zM352.65,138.00h3.05v-15.71h-3.05zM355.71,138.00h3.05v-18.79h-3.05zM358.76,138.00h3.05v-24.95h-3.05zM361.81,138.00h3.05v-25.87h-3.05zM364.87,138.00h3.05v-38.81h-3.05zM367.92,138.00h3.05v-55.75h-3.05zM370.97,138.00h3.05v-85.93h-3.05zM374.02,138.00h3.05v-105.03h-3.05zM377.07,138.00h3.05v-103.18h-3.05zM380.13,138.00h3.05v-96.40h-3.05zM383.18,138.00h3.05v-93.94h-3.05zM386.23,138.00h3.05v-97.33h-3.05zM389.28,138.00h3.05v-65.30h-3.05zM392.34,138.00h3.05v-29.26h-3.05zM395.39,138.00h3.05v-9.24h-3.05zM398.44,138.00h3.05v-3.70h-3.05zM401.50,138.00h3.05v-1.54h-3.05zM404.55,138.00h3.05v-0.62h-3.05z" fill="#0000ff" fill-opacity="0.6"/>
<path d="M285.50,138.00v-0.31M288.55,138.00v-0.92M291.61,138.00v-1.54M294.66,138.00v-1.85M297.71,138.00v-2.16M300.76,138.00v-1.85M303.81,138.00v-3.08M306.87,138.00v-3.08M309.92,138.00v-3.70M312.97,138.00v-4.31M316.02,138.00v-5.85M319.08,138.00v-6.47M322.13,138.00v-6.47M325.18,138.00v-7.08M328.24,138.00v-7.08M331.29,138.00v-6.47M334.34,138.00v-10.78M337.39,138.00v-9.55M340.44,138.00v-9.55M343.50,138.00v-10.16M346.55,138.00v-12.01M349.60,138.00v-13.86M352.65,138.00v-15.71M355.71,138.00v-18.79M358.76,138.00v-24.95M361.81,138.00v-25.87M364.87,138.00v-38.81M367.92,138.00v-55.75M370.97,138.00v-85.93M374.02,138.00v-105.03M377.07,138.00v-103.18M380.13,138.00v-96.40M383.18,138.00v-93.94M386.23,138.00v-97.33M389.28,138.00v-65.30M392.34,138.00v-29.26M395.39,138.00v-9.24M398.44,138.00v-3.70M401.50,138.00v-1.54M404.55,138.00v-0.62" fill="none" stroke="#000090" stroke-opacity="0.3" stroke-width="0.6"/>
</g>
<rect x="285.50" y="27.50" width="203.50" height="110.70" fill="none" stroke="#8a8a8a" stroke-width="1"/>
<line x1="285.50" y1="27.50" x2="285.50" y2="138.20" stroke="#707070" stroke-width="1.0" />
<line x1="285.50" y1="138.20" x2="489.00" y2="138.20" stroke="#707070" stroke-width="1.0" />
<line x1="283.30" y1="138.00" x2="285.50" y2="138.00" stroke="#444" stroke-width="1.0" />
<text x="282.20" y="140.40" font-size="8.4" font-weight="bold" fill="#111" stroke="#111" stroke-width="0.16" text-anchor="end" textLength="5.00" lengthAdjust="spacingAndGlyphs" >0</text>
<line x1="284.30" y1="122.60" x2="285.50" y2="122.60" stroke="#444" stroke-width="1.0" />
<line x1="283.30" y1="107.20" x2="285.50" y2="107.20" stroke="#444" stroke-width="1.0" />
<text x="282.20" y="109.60" font-size="8.4" font-weight="bold" fill="#111" stroke="#111" stroke-width="0.16" text-anchor="end" textLength="15.00" lengthAdjust="spacingAndGlyphs" >100</text>
<line x1="284.30" y1="91.80" x2="285.50" y2="91.80" stroke="#444" stroke-width="1.0" />
<line x1="283.30" y1="76.40" x2="285.50" y2="76.40" stroke="#444" stroke-width="1.0" />
<text x="282.20" y="78.80" font-size="8.4" font-weight="bold" fill="#111" stroke="#111" stroke-width="0.16" text-anchor="end" textLength="15.00" lengthAdjust="spacingAndGlyphs" >200</text>
<line x1="284.30" y1="61.00" x2="285.50" y2="61.00" stroke="#444" stroke-width="1.0" />
<line x1="283.30" y1="45.60" x2="285.50" y2="45.60" stroke="#444" stroke-width="1.0" />
<text x="282.20" y="48.00" font-size="8.4" font-weight="bold" fill="#111" stroke="#111" stroke-width="0.16" text-anchor="end" textLength="15.00" lengthAdjust="spacingAndGlyphs" >300</text>
<line x1="284.30" y1="30.20" x2="285.50" y2="30.20" stroke="#444" stroke-width="1.0" />
<line x1="285.50" y1="138.20" x2="285.50" y2="140.40" stroke="#444" stroke-width="1.0" />
<text x="285.50" y="147.10" font-size="8.4" font-weight="bold" fill="#111" stroke="#111" stroke-width="0.16" text-anchor="middle" textLength="12.40" lengthAdjust="spacingAndGlyphs" >0.0</text>
<line x1="310.94" y1="138.20" x2="310.94" y2="139.40" stroke="#444" stroke-width="1.0" />
<line x1="336.38" y1="138.20" x2="336.38" y2="140.40" stroke="#444" stroke-width="1.0" />
<text x="336.38" y="147.10" font-size="8.4" font-weight="bold" fill="#111" stroke="#111" stroke-width="0.16" text-anchor="middle" textLength="12.40" lengthAdjust="spacingAndGlyphs" >0.5</text>
<line x1="361.81" y1="138.20" x2="361.81" y2="139.40" stroke="#444" stroke-width="1.0" />
<line x1="387.25" y1="138.20" x2="387.25" y2="140.40" stroke="#444" stroke-width="1.0" />
<text x="387.25" y="147.10" font-size="8.4" font-weight="bold" fill="#111" stroke="#111" stroke-width="0.16" text-anchor="middle" textLength="12.40" lengthAdjust="spacingAndGlyphs" >1.0</text>
<line x1="412.69" y1="138.20" x2="412.69" y2="139.40" stroke="#444" stroke-width="1.0" />
<line x1="438.12" y1="138.20" x2="438.12" y2="140.40" stroke="#444" stroke-width="1.0" />
<text x="438.12" y="147.10" font-size="8.4" font-weight="bold" fill="#111" stroke="#111" stroke-width="0.16" text-anchor="middle" textLength="12.40" lengthAdjust="spacingAndGlyphs" >1.5</text>
<line x1="463.56" y1="138.20" x2="463.56" y2="139.40" stroke="#444" stroke-width="1.0" />
<line x1="489.00" y1="138.20" x2="489.00" y2="140.40" stroke="#444" stroke-width="1.0" />
<text x="489.00" y="147.10" font-size="8.4" font-weight="bold" fill="#111" stroke="#111" stroke-width="0.16" text-anchor="middle" textLength="12.40" lengthAdjust="spacingAndGlyphs" >2.0</text>
<rect x="455.50" y="30.20" width="16.2" height="6.1" fill="#000000" fill-opacity="1.0" stroke="#000000" stroke-opacity="1" stroke-width="0.6"/>
<text x="473.80" y="35.00" font-size="8.0" font-weight="bold" fill="#111" stroke="#111" stroke-width="0.16" text-anchor="start" textLength="12.20" lengthAdjust="spacingAndGlyphs" >CE</text>
<rect x="455.50" y="39.30" width="16.2" height="6.1" fill="#ff0000" fill-opacity="0.7" stroke="#ff0000" stroke-opacity="0.8999999999999999" stroke-width="0.6"/>
<text x="473.80" y="44.10" font-size="8.0" font-weight="bold" fill="#111" stroke="#111" stroke-width="0.16" text-anchor="start" textLength="13.40" lengthAdjust="spacingAndGlyphs" >GA</text>
<rect x="455.50" y="48.90" width="16.2" height="6.1" fill="#0000ff" fill-opacity="0.6" stroke="#0000ff" stroke-opacity="0.8" stroke-width="0.6"/>
<text x="473.80" y="53.70" font-size="8.0" font-weight="bold" fill="#111" stroke="#111" stroke-width="0.16" text-anchor="start" textLength="12.20" lengthAdjust="spacingAndGlyphs" >GF</text>
<clipPath id="c193"><rect x="286.40" y="193.10" width="203.10" height="110.90"/></clipPath>
<g clip-path="url(#c193)">
<path d="M285.60,303.60h3.05v-4.44h-3.05zM288.65,303.60h3.05v-12.43h-3.05zM291.70,303.60h3.05v-21.31h-3.05zM294.74,303.60h3.05v-22.20h-3.05zM297.79,303.60h3.05v-35.08h-3.05zM300.84,303.60h3.05v-46.18h-3.05zM303.89,303.60h3.05v-53.72h-3.05zM306.94,303.60h3.05v-50.62h-3.05zM309.98,303.60h3.05v-55.50h-3.05zM313.03,303.60h3.05v-65.71h-3.05zM316.08,303.60h3.05v-69.71h-3.05zM319.13,303.60h3.05v-88.36h-3.05zM322.18,303.60h3.05v-91.02h-3.05zM325.22,303.60h3.05v-86.14h-3.05zM328.27,303.60h3.05v-79.03h-3.05zM331.32,303.60h3.05v-76.37h-3.05zM334.37,303.60h3.05v-89.69h-3.05zM337.42,303.60h3.05v-71.48h-3.05zM340.46,303.60h3.05v-65.27h-3.05zM343.51,303.60h3.05v-57.28h-3.05zM346.56,303.60h3.05v-50.62h-3.05zM349.61,303.60h3.05v-38.18h-3.05zM352.66,303.60h3.05v-31.97h-3.05zM355.70,303.60h3.05v-29.75h-3.05zM358.75,303.60h3.05v-26.20h-3.05zM361.80,303.60h3.05v-17.76h-3.05zM364.85,303.60h3.05v-13.76h-3.05zM367.90,303.60h3.05v-12.43h-3.05zM370.94,303.60h3.05v-10.66h-3.05zM373.99,303.60h3.05v-8.88h-3.05zM377.04,303.60h3.05v-7.55h-3.05zM380.09,303.60h3.05v-6.22h-3.05zM383.14,303.60h3.05v-5.33h-3.05zM386.18,303.60h3.05v-4.00h-3.05zM389.23,303.60h3.05v-3.11h-3.05zM392.28,303.60h3.05v-2.66h-3.05zM395.33,303.60h3.05v-2.22h-3.05zM398.38,303.60h3.05v-1.78h-3.05zM401.42,303.60h3.05v-1.33h-3.05zM404.47,303.60h3.05v-0.89h-3.05zM407.52,303.60h3.05v-0.89h-3.05zM410.57,303.60h3.05v-0.44h-3.05zM413.62,303.60h3.05v-0.44h-3.05z" fill="#000000" fill-opacity="1.0"/>
<path d="M285.60,303.60h3.05v-4.00h-3.05zM288.65,303.60h3.05v-4.44h-3.05zM291.70,303.60h3.05v-4.88h-3.05zM294.74,303.60h3.05v-9.77h-3.05zM297.79,303.60h3.05v-7.99h-3.05zM300.84,303.60h3.05v-12.88h-3.05zM303.89,303.60h3.05v-9.77h-3.05zM306.94,303.60h3.05v-16.43h-3.05zM309.98,303.60h3.05v-23.09h-3.05zM313.03,303.60h3.05v-24.86h-3.05zM316.08,303.60h3.05v-21.76h-3.05zM319.13,303.60h3.05v-28.86h-3.05zM322.18,303.60h3.05v-24.42h-3.05zM325.22,303.60h3.05v-38.18h-3.05zM328.27,303.60h3.05v-33.30h-3.05zM331.32,303.60h3.05v-36.41h-3.05zM334.37,303.60h3.05v-33.30h-3.05zM337.42,303.60h3.05v-47.51h-3.05zM340.46,303.60h3.05v-39.07h-3.05zM343.51,303.60h3.05v-43.96h-3.05zM346.56,303.60h3.05v-44.40h-3.05zM349.61,303.60h3.05v-51.06h-3.05zM352.66,303.60h3.05v-49.73h-3.05zM355.70,303.60h3.05v-64.82h-3.05zM358.75,303.60h3.05v-72.82h-3.05zM361.80,303.60h3.05v-62.60h-3.05zM364.85,303.60h3.05v-75.48h-3.05zM367.90,303.60h3.05v-70.60h-3.05zM370.94,303.60h3.05v-60.83h-3.05zM373.99,303.60h3.05v-58.61h-3.05zM377.04,303.60h3.05v-67.04h-3.05zM380.09,303.60h3.05v-48.40h-3.05zM383.14,303.60h3.05v-49.73h-3.05zM386.18,303.60h3.05v-43.07h-3.05zM389.23,303.60h3.05v-35.52h-3.05zM392.28,303.60h3.05v-34.63h-3.05zM395.33,303.60h3.05v-21.31h-3.05zM398.38,303.60h3.05v-18.20h-3.05zM401.42,303.60h3.05v-14.21h-3.05zM404.47,303.60h3.05v-8.44h-3.05zM407.52,303.60h3.05v-6.66h-3.05zM410.57,303.60h3.05v-6.66h-3.05zM413.62,303.60h3.05v-3.55h-3.05zM416.66,303.60h3.05v-3.55h-3.05zM419.71,303.60h3.05v-3.55h-3.05zM422.76,303.60h3.05v-2.22h-3.05zM425.81,303.60h3.05v-2.22h-3.05zM428.86,303.60h3.05v-2.22h-3.05zM431.90,303.60h3.05v-1.33h-3.05zM434.95,303.60h3.05v-1.33h-3.05zM438.00,303.60h3.05v-0.89h-3.05zM441.05,303.60h3.05v-0.89h-3.05zM444.10,303.60h3.05v-0.44h-3.05zM447.14,303.60h3.05v-0.44h-3.05z" fill="#ff0000" fill-opacity="0.7"/>
<path d="M285.60,303.60v-4.00M288.65,303.60v-4.44M291.70,303.60v-4.88M294.74,303.60v-9.77M297.79,303.60v-7.99M300.84,303.60v-12.88M303.89,303.60v-9.77M306.94,303.60v-16.43M309.98,303.60v-23.09M313.03,303.60v-24.86M316.08,303.60v-21.76M319.13,303.60v-28.86M322.18,303.60v-24.42M325.22,303.60v-38.18M328.27,303.60v-33.30M331.32,303.60v-36.41M334.37,303.60v-33.30M337.42,303.60v-47.51M340.46,303.60v-39.07M343.51,303.60v-43.96M346.56,303.60v-44.40M349.61,303.60v-51.06M352.66,303.60v-49.73M355.70,303.60v-64.82M358.75,303.60v-72.82M361.80,303.60v-62.60M364.85,303.60v-75.48M367.90,303.60v-70.60M370.94,303.60v-60.83M373.99,303.60v-58.61M377.04,303.60v-67.04M380.09,303.60v-48.40M383.14,303.60v-49.73M386.18,303.60v-43.07M389.23,303.60v-35.52M392.28,303.60v-34.63M395.33,303.60v-21.31M398.38,303.60v-18.20M401.42,303.60v-14.21M404.47,303.60v-8.44M407.52,303.60v-6.66M410.57,303.60v-6.66M413.62,303.60v-3.55M416.66,303.60v-3.55M419.71,303.60v-3.55M422.76,303.60v-2.22M425.81,303.60v-2.22M428.86,303.60v-2.22M431.90,303.60v-1.33M434.95,303.60v-1.33M438.00,303.60v-0.89M441.05,303.60v-0.89M444.10,303.60v-0.44M447.14,303.60v-0.44" fill="none" stroke="#900000" stroke-opacity="0.3" stroke-width="0.6"/>
<path d="M285.60,303.60h3.05v-1.33h-3.05zM288.65,303.60h3.05v-2.22h-3.05zM291.70,303.60h3.05v-2.66h-3.05zM294.74,303.60h3.05v-4.88h-3.05zM297.79,303.60h3.05v-11.10h-3.05zM300.84,303.60h3.05v-7.99h-3.05zM303.89,303.60h3.05v-7.55h-3.05zM306.94,303.60h3.05v-7.55h-3.05zM309.98,303.60h3.05v-12.88h-3.05zM313.03,303.60h3.05v-6.66h-3.05zM316.08,303.60h3.05v-10.66h-3.05zM319.13,303.60h3.05v-14.21h-3.05zM322.18,303.60h3.05v-11.10h-3.05zM325.22,303.60h3.05v-12.88h-3.05zM328.27,303.60h3.05v-10.66h-3.05zM331.32,303.60h3.05v-11.10h-3.05zM334.37,303.60h3.05v-11.54h-3.05zM337.42,303.60h3.05v-15.10h-3.05zM340.46,303.60h3.05v-16.43h-3.05zM343.51,303.60h3.05v-15.10h-3.05zM346.56,303.60h3.05v-15.10h-3.05zM349.61,303.60h3.05v-16.43h-3.05zM352.66,303.60h3.05v-18.65h-3.05zM355.70,303.60h3.05v-21.31h-3.05zM358.75,303.60h3.05v-24.86h-3.05zM361.80,303.60h3.05v-19.98h-3.05zM364.85,303.60h3.05v-22.64h-3.05zM367.90,303.60h3.05v-27.97h-3.05zM370.94,303.60h3.05v-31.08h-3.05zM373.99,303.60h3.05v-29.75h-3.05zM377.04,303.60h3.05v-39.07h-3.05zM380.09,303.60h3.05v-39.07h-3.05zM383.14,303.60h3.05v-44.40h-3.05zM386.18,303.60h3.05v-43.51h-3.05zM389.23,303.60h3.05v-55.06h-3.05zM392.28,303.60h3.05v-55.94h-3.05zM395.33,303.60h3.05v-59.50h-3.05zM398.38,303.60h3.05v-64.82h-3.05zM401.42,303.60h3.05v-53.28h-3.05zM404.47,303.60h3.05v-56.39h-3.05zM407.52,303.60h3.05v-54.17h-3.05zM410.57,303.60h3.05v-49.28h-3.05zM413.62,303.60h3.05v-41.29h-3.05zM416.66,303.60h3.05v-44.40h-3.05zM419.71,303.60h3.05v-48.40h-3.05zM422.76,303.60h3.05v-40.85h-3.05zM425.81,303.60h3.05v-35.96h-3.05zM428.86,303.60h3.05v-31.08h-3.05zM431.90,303.60h3.05v-21.31h-3.05zM434.95,303.60h3.05v-22.20h-3.05zM438.00,303.60h3.05v-22.20h-3.05zM441.05,303.60h3.05v-16.43h-3.05zM444.10,303.60h3.05v-13.32h-3.05zM447.14,303.60h3.05v-9.32h-3.05zM450.19,303.60h3.05v-9.32h-3.05zM453.24,303.60h3.05v-5.33h-3.05zM456.29,303.60h3.05v-7.55h-3.05zM459.34,303.60h3.05v-1.78h-3.05zM462.38,303.60h3.05v-1.33h-3.05zM465.43,303.60h3.05v-0.67h-3.05zM468.48,303.60h3.05v-0.44h-3.05zM471.53,303.60h3.05v-0.44h-3.05zM474.58,303.60h3.05v-0.67h-3.05z" fill="#0000ff" fill-opacity="0.6"/>
<path d="M285.60,303.60v-1.33M288.65,303.60v-2.22M291.70,303.60v-2.66M294.74,303.60v-4.88M297.79,303.60v-11.10M300.84,303.60v-7.99M303.89,303.60v-7.55M306.94,303.60v-7.55M309.98,303.60v-12.88M313.03,303.60v-6.66M316.08,303.60v-10.66M319.13,303.60v-14.21M322.18,303.60v-11.10M325.22,303.60v-12.88M328.27,303.60v-10.66M331.32,303.60v-11.10M334.37,303.60v-11.54M337.42,303.60v-15.10M340.46,303.60v-16.43M343.51,303.60v-15.10M346.56,303.60v-15.10M349.61,303.60v-16.43M352.66,303.60v-18.65M355.70,303.60v-21.31M358.75,303.60v-24.86M361.80,303.60v-19.98M364.85,303.60v-22.64M367.90,303.60v-27.97M370.94,303.60v-31.08M373.99,303.60v-29.75M377.04,303.60v-39.07M380.09,303.60v-39.07M383.14,303.60v-44.40M386.18,303.60v-43.51M389.23,303.60v-55.06M392.28,303.60v-55.94M395.33,303.60v-59.50M398.38,303.60v-64.82M401.42,303.60v-53.28M404.47,303.60v-56.39M407.52,303.60v-54.17M410.57,303.60v-49.28M413.62,303.60v-41.29M416.66,303.60v-44.40M419.71,303.60v-48.40M422.76,303.60v-40.85M425.81,303.60v-35.96M428.86,303.60v-31.08M431.90,303.60v-21.31M434.95,303.60v-22.20M438.00,303.60v-22.20M441.05,303.60v-16.43M444.10,303.60v-13.32M447.14,303.60v-9.32M450.19,303.60v-9.32M453.24,303.60v-5.33M456.29,303.60v-7.55M459.34,303.60v-1.78M462.38,303.60v-1.33M465.43,303.60v-0.67M468.48,303.60v-0.44M471.53,303.60v-0.44M474.58,303.60v-0.67" fill="none" stroke="#000090" stroke-opacity="0.3" stroke-width="0.6"/>
</g>
<rect x="286.40" y="193.10" width="203.10" height="110.90" fill="none" stroke="#8a8a8a" stroke-width="1"/>
<line x1="286.40" y1="193.10" x2="286.40" y2="304.00" stroke="#707070" stroke-width="1.0" />
<line x1="286.40" y1="304.00" x2="489.50" y2="304.00" stroke="#707070" stroke-width="1.0" />
<line x1="284.20" y1="303.60" x2="286.40" y2="303.60" stroke="#444" stroke-width="1.0" />
<text x="283.00" y="306.00" font-size="8.4" font-weight="bold" fill="#111" stroke="#111" stroke-width="0.16" text-anchor="end" textLength="5.00" lengthAdjust="spacingAndGlyphs" >0</text>
<line x1="285.20" y1="292.50" x2="286.40" y2="292.50" stroke="#444" stroke-width="1.0" />
<line x1="284.20" y1="281.40" x2="286.40" y2="281.40" stroke="#444" stroke-width="1.0" />
<text x="283.00" y="283.80" font-size="8.4" font-weight="bold" fill="#111" stroke="#111" stroke-width="0.16" text-anchor="end" textLength="10.00" lengthAdjust="spacingAndGlyphs" >50</text>
<line x1="285.20" y1="270.30" x2="286.40" y2="270.30" stroke="#444" stroke-width="1.0" />
<line x1="284.20" y1="259.20" x2="286.40" y2="259.20" stroke="#444" stroke-width="1.0" />
<text x="283.00" y="261.60" font-size="8.4" font-weight="bold" fill="#111" stroke="#111" stroke-width="0.16" text-anchor="end" textLength="15.00" lengthAdjust="spacingAndGlyphs" >100</text>
<line x1="285.20" y1="248.10" x2="286.40" y2="248.10" stroke="#444" stroke-width="1.0" />
<line x1="284.20" y1="237.00" x2="286.40" y2="237.00" stroke="#444" stroke-width="1.0" />
<text x="283.00" y="239.40" font-size="8.4" font-weight="bold" fill="#111" stroke="#111" stroke-width="0.16" text-anchor="end" textLength="15.00" lengthAdjust="spacingAndGlyphs" >150</text>
<line x1="285.20" y1="225.90" x2="286.40" y2="225.90" stroke="#444" stroke-width="1.0" />
<line x1="284.20" y1="214.80" x2="286.40" y2="214.80" stroke="#444" stroke-width="1.0" />
<text x="283.00" y="217.20" font-size="8.4" font-weight="bold" fill="#111" stroke="#111" stroke-width="0.16" text-anchor="end" textLength="15.00" lengthAdjust="spacingAndGlyphs" >200</text>
<line x1="285.20" y1="203.70" x2="286.40" y2="203.70" stroke="#444" stroke-width="1.0" />
<line x1="284.20" y1="192.60" x2="286.40" y2="192.60" stroke="#444" stroke-width="1.0" />
<text x="283.00" y="195.00" font-size="8.4" font-weight="bold" fill="#111" stroke="#111" stroke-width="0.16" text-anchor="end" textLength="15.00" lengthAdjust="spacingAndGlyphs" >250</text>
<line x1="286.40" y1="304.00" x2="286.40" y2="306.20" stroke="#444" stroke-width="1.0" />
<text x="286.40" y="312.00" font-size="8.4" font-weight="bold" fill="#111" stroke="#111" stroke-width="0.16" text-anchor="middle" textLength="12.40" lengthAdjust="spacingAndGlyphs" >0.0</text>
<line x1="311.79" y1="304.00" x2="311.79" y2="305.20" stroke="#444" stroke-width="1.0" />
<line x1="337.17" y1="304.00" x2="337.17" y2="306.20" stroke="#444" stroke-width="1.0" />
<text x="337.17" y="312.00" font-size="8.4" font-weight="bold" fill="#111" stroke="#111" stroke-width="0.16" text-anchor="middle" textLength="12.40" lengthAdjust="spacingAndGlyphs" >0.5</text>
<line x1="362.56" y1="304.00" x2="362.56" y2="305.20" stroke="#444" stroke-width="1.0" />
<line x1="387.95" y1="304.00" x2="387.95" y2="306.20" stroke="#444" stroke-width="1.0" />
<text x="387.95" y="312.00" font-size="8.4" font-weight="bold" fill="#111" stroke="#111" stroke-width="0.16" text-anchor="middle" textLength="12.40" lengthAdjust="spacingAndGlyphs" >1.0</text>
<line x1="413.34" y1="304.00" x2="413.34" y2="305.20" stroke="#444" stroke-width="1.0" />
<line x1="438.73" y1="304.00" x2="438.73" y2="306.20" stroke="#444" stroke-width="1.0" />
<text x="438.73" y="312.00" font-size="8.4" font-weight="bold" fill="#111" stroke="#111" stroke-width="0.16" text-anchor="middle" textLength="12.40" lengthAdjust="spacingAndGlyphs" >1.5</text>
<line x1="464.11" y1="304.00" x2="464.11" y2="305.20" stroke="#444" stroke-width="1.0" />
<line x1="489.50" y1="304.00" x2="489.50" y2="306.20" stroke="#444" stroke-width="1.0" />
<text x="489.50" y="312.00" font-size="8.4" font-weight="bold" fill="#111" stroke="#111" stroke-width="0.16" text-anchor="middle" textLength="12.40" lengthAdjust="spacingAndGlyphs" >2.0</text>
<rect x="455.50" y="195.90" width="16.2" height="6.1" fill="#000000" fill-opacity="1.0" stroke="#000000" stroke-opacity="1" stroke-width="0.6"/>
<text x="473.80" y="200.70" font-size="8.0" font-weight="bold" fill="#111" stroke="#111" stroke-width="0.16" text-anchor="start" textLength="12.20" lengthAdjust="spacingAndGlyphs" >CE</text>
<rect x="455.50" y="204.70" width="16.2" height="6.1" fill="#ff0000" fill-opacity="0.7" stroke="#ff0000" stroke-opacity="0.8999999999999999" stroke-width="0.6"/>
<text x="473.80" y="209.50" font-size="8.0" font-weight="bold" fill="#111" stroke="#111" stroke-width="0.16" text-anchor="start" textLength="13.40" lengthAdjust="spacingAndGlyphs" >GA</text>
<rect x="455.50" y="214.20" width="16.2" height="6.1" fill="#0000ff" fill-opacity="0.6" stroke="#0000ff" stroke-opacity="0.8" stroke-width="0.6"/>
<text x="473.80" y="219.00" font-size="8.0" font-weight="bold" fill="#111" stroke="#111" stroke-width="0.16" text-anchor="start" textLength="12.20" lengthAdjust="spacingAndGlyphs" >GF</text>
<clipPath id="c351"><rect x="285.30" y="351.50" width="203.90" height="111.50"/></clipPath>
<g clip-path="url(#c351)">
<path d="M284.00,462.80h3.05v-13.32h-3.05zM287.05,462.80h3.05v-47.95h-3.05zM290.10,462.80h3.05v-78.14h-3.05zM293.14,462.80h3.05v-93.68h-3.05zM296.19,462.80h3.05v-99.46h-3.05zM299.24,462.80h3.05v-90.58h-3.05zM302.29,462.80h3.05v-90.58h-3.05zM305.34,462.80h3.05v-84.36h-3.05zM308.38,462.80h3.05v-88.80h-3.05zM311.43,462.80h3.05v-82.14h-3.05zM314.48,462.80h3.05v-87.47h-3.05zM317.53,462.80h3.05v-87.47h-3.05zM320.58,462.80h3.05v-71.04h-3.05zM323.62,462.80h3.05v-66.60h-3.05zM326.67,462.80h3.05v-59.94h-3.05zM329.72,462.80h3.05v-53.28h-3.05zM332.77,462.80h3.05v-46.62h-3.05zM335.82,462.80h3.05v-39.07h-3.05zM338.86,462.80h3.05v-31.97h-3.05zM341.91,462.80h3.05v-25.75h-3.05zM344.96,462.80h3.05v-19.98h-3.05zM348.01,462.80h3.05v-15.10h-3.05zM351.06,462.80h3.05v-11.10h-3.05zM354.10,462.80h3.05v-7.99h-3.05zM357.15,462.80h3.05v-5.33h-3.05zM360.20,462.80h3.05v-3.55h-3.05zM363.25,462.80h3.05v-2.22h-3.05zM366.30,462.80h3.05v-1.33h-3.05zM369.34,462.80h3.05v-0.89h-3.05zM372.39,462.80h3.05v-0.44h-3.05z" fill="#000000" fill-opacity="1.0"/>
<path d="M284.00,462.80h3.05v-3.55h-3.05zM287.05,462.80h3.05v-44.84h-3.05zM290.10,462.80h3.05v-58.16h-3.05zM293.14,462.80h3.05v-62.16h-3.05zM296.19,462.80h3.05v-71.48h-3.05zM299.24,462.80h3.05v-73.26h-3.05zM302.29,462.80h3.05v-84.36h-3.05zM305.34,462.80h3.05v-80.81h-3.05zM308.38,462.80h3.05v-80.81h-3.05zM311.43,462.80h3.05v-84.80h-3.05zM314.48,462.80h3.05v-82.14h-3.05zM317.53,462.80h3.05v-79.92h-3.05zM320.58,462.80h3.05v-74.59h-3.05zM323.62,462.80h3.05v-73.26h-3.05zM326.67,462.80h3.05v-71.04h-3.05zM329.72,462.80h3.05v-65.71h-3.05zM332.77,462.80h3.05v-67.04h-3.05zM335.82,462.80h3.05v-56.83h-3.05zM338.86,462.80h3.05v-42.18h-3.05zM341.91,462.80h3.05v-52.39h-3.05zM344.96,462.80h3.05v-40.40h-3.05zM348.01,462.80h3.05v-30.64h-3.05zM351.06,462.80h3.05v-27.97h-3.05zM354.10,462.80h3.05v-16.87h-3.05zM357.15,462.80h3.05v-9.77h-3.05zM360.20,462.80h3.05v-6.44h-3.05zM363.25,462.80h3.05v-5.33h-3.05zM366.30,462.80h3.05v-3.55h-3.05zM369.34,462.80h3.05v-2.66h-3.05zM372.39,462.80h3.05v-1.78h-3.05zM375.44,462.80h3.05v-1.33h-3.05zM378.49,462.80h3.05v-0.89h-3.05zM381.54,462.80h3.05v-0.44h-3.05z" fill="#ff0000" fill-opacity="0.7"/>
<path d="M284.00,462.80v-3.55M287.05,462.80v-44.84M290.10,462.80v-58.16M293.14,462.80v-62.16M296.19,462.80v-71.48M299.24,462.80v-73.26M302.29,462.80v-84.36M305.34,462.80v-80.81M308.38,462.80v-80.81M311.43,462.80v-84.80M314.48,462.80v-82.14M317.53,462.80v-79.92M320.58,462.80v-74.59M323.62,462.80v-73.26M326.67,462.80v-71.04M329.72,462.80v-65.71M332.77,462.80v-67.04M335.82,462.80v-56.83M338.86,462.80v-42.18M341.91,462.80v-52.39M344.96,462.80v-40.40M348.01,462.80v-30.64M351.06,462.80v-27.97M354.10,462.80v-16.87M357.15,462.80v-9.77M360.20,462.80v-6.44M363.25,462.80v-5.33M366.30,462.80v-3.55M369.34,462.80v-2.66M372.39,462.80v-1.78M375.44,462.80v-1.33M378.49,462.80v-0.89M381.54,462.80v-0.44" fill="none" stroke="#900000" stroke-opacity="0.3" stroke-width="0.6"/>
<path d="M284.00,462.80h3.05v-12.43h-3.05zM287.05,462.80h3.05v-14.21h-3.05zM290.10,462.80h3.05v-22.20h-3.05zM293.14,462.80h3.05v-35.52h-3.05zM296.19,462.80h3.05v-56.39h-3.05zM299.24,462.80h3.05v-71.04h-3.05zM302.29,462.80h3.05v-81.25h-3.05zM305.34,462.80h3.05v-77.70h-3.05zM308.38,462.80h3.05v-88.80h-3.05zM311.43,462.80h3.05v-81.25h-3.05zM314.48,462.80h3.05v-80.36h-3.05zM317.53,462.80h3.05v-80.36h-3.05zM320.58,462.80h3.05v-69.71h-3.05zM323.62,462.80h3.05v-75.04h-3.05zM326.67,462.80h3.05v-71.48h-3.05zM329.72,462.80h3.05v-65.27h-3.05zM332.77,462.80h3.05v-59.50h-3.05zM335.82,462.80h3.05v-50.62h-3.05zM338.86,462.80h3.05v-40.40h-3.05zM341.91,462.80h3.05v-40.40h-3.05zM344.96,462.80h3.05v-32.41h-3.05zM348.01,462.80h3.05v-23.09h-3.05zM351.06,462.80h3.05v-19.54h-3.05zM354.10,462.80h3.05v-17.76h-3.05zM357.15,462.80h3.05v-13.32h-3.05zM360.20,462.80h3.05v-13.32h-3.05zM363.25,462.80h3.05v-14.21h-3.05zM366.30,462.80h3.05v-9.77h-3.05zM369.34,462.80h3.05v-6.66h-3.05zM372.39,462.80h3.05v-7.55h-3.05zM375.44,462.80h3.05v-3.11h-3.05zM378.49,462.80h3.05v-3.11h-3.05zM381.54,462.80h3.05v-4.44h-3.05zM384.58,462.80h3.05v-3.11h-3.05zM387.63,462.80h3.05v-0.44h-3.05zM390.68,462.80h3.05v-1.78h-3.05zM393.73,462.80h3.05v-1.33h-3.05zM396.78,462.80h3.05v-0.67h-3.05zM399.82,462.80h3.05v-0.22h-3.05zM402.87,462.80h3.05v-1.15h-3.05zM405.92,462.80h3.05v-1.15h-3.05zM408.97,462.80h3.05v-0.44h-3.05z" fill="#0000ff" fill-opacity="0.6"/>
<path d="M284.00,462.80v-12.43M287.05,462.80v-14.21M290.10,462.80v-22.20M293.14,462.80v-35.52M296.19,462.80v-56.39M299.24,462.80v-71.04M302.29,462.80v-81.25M305.34,462.80v-77.70M308.38,462.80v-88.80M311.43,462.80v-81.25M314.48,462.80v-80.36M317.53,462.80v-80.36M320.58,462.80v-69.71M323.62,462.80v-75.04M326.67,462.80v-71.48M329.72,462.80v-65.27M332.77,462.80v-59.50M335.82,462.80v-50.62M338.86,462.80v-40.40M341.91,462.80v-40.40M344.96,462.80v-32.41M348.01,462.80v-23.09M351.06,462.80v-19.54M354.10,462.80v-17.76M357.15,462.80v-13.32M360.20,462.80v-13.32M363.25,462.80v-14.21M366.30,462.80v-9.77M369.34,462.80v-6.66M372.39,462.80v-7.55M375.44,462.80v-3.11M378.49,462.80v-3.11M381.54,462.80v-4.44M384.58,462.80v-3.11M387.63,462.80v-0.44M390.68,462.80v-1.78M393.73,462.80v-1.33M396.78,462.80v-0.67M399.82,462.80v-0.22M402.87,462.80v-1.15M405.92,462.80v-1.15M408.97,462.80v-0.44" fill="none" stroke="#000090" stroke-opacity="0.3" stroke-width="0.6"/>
</g>
<rect x="285.30" y="351.50" width="203.90" height="111.50" fill="none" stroke="#8a8a8a" stroke-width="1"/>
<line x1="285.30" y1="351.50" x2="285.30" y2="463.00" stroke="#707070" stroke-width="1.0" />
<line x1="285.30" y1="463.00" x2="489.20" y2="463.00" stroke="#707070" stroke-width="1.0" />
<line x1="283.10" y1="462.80" x2="285.30" y2="462.80" stroke="#444" stroke-width="1.0" />
<text x="281.60" y="465.20" font-size="8.4" font-weight="bold" fill="#111" stroke="#111" stroke-width="0.16" text-anchor="end" textLength="5.00" lengthAdjust="spacingAndGlyphs" >0</text>
<line x1="284.10" y1="451.70" x2="285.30" y2="451.70" stroke="#444" stroke-width="1.0" />
<line x1="283.10" y1="440.60" x2="285.30" y2="440.60" stroke="#444" stroke-width="1.0" />
<text x="281.60" y="443.00" font-size="8.4" font-weight="bold" fill="#111" stroke="#111" stroke-width="0.16" text-anchor="end" textLength="10.00" lengthAdjust="spacingAndGlyphs" >50</text>
<line x1="284.10" y1="429.50" x2="285.30" y2="429.50" stroke="#444" stroke-width="1.0" />
<line x1="283.10" y1="418.40" x2="285.30" y2="418.40" stroke="#444" stroke-width="1.0" />
<text x="281.60" y="420.80" font-size="8.4" font-weight="bold" fill="#111" stroke="#111" stroke-width="0.16" text-anchor="end" textLength="15.00" lengthAdjust="spacingAndGlyphs" >100</text>
<line x1="284.10" y1="407.30" x2="285.30" y2="407.30" stroke="#444" stroke-width="1.0" />
<line x1="283.10" y1="396.20" x2="285.30" y2="396.20" stroke="#444" stroke-width="1.0" />
<text x="281.60" y="398.60" font-size="8.4" font-weight="bold" fill="#111" stroke="#111" stroke-width="0.16" text-anchor="end" textLength="15.00" lengthAdjust="spacingAndGlyphs" >150</text>
<line x1="284.10" y1="385.10" x2="285.30" y2="385.10" stroke="#444" stroke-width="1.0" />
<line x1="283.10" y1="374.00" x2="285.30" y2="374.00" stroke="#444" stroke-width="1.0" />
<text x="281.60" y="376.40" font-size="8.4" font-weight="bold" fill="#111" stroke="#111" stroke-width="0.16" text-anchor="end" textLength="15.00" lengthAdjust="spacingAndGlyphs" >200</text>
<line x1="284.10" y1="362.90" x2="285.30" y2="362.90" stroke="#444" stroke-width="1.0" />
<line x1="283.10" y1="351.80" x2="285.30" y2="351.80" stroke="#444" stroke-width="1.0" />
<text x="281.60" y="354.20" font-size="8.4" font-weight="bold" fill="#111" stroke="#111" stroke-width="0.16" text-anchor="end" textLength="15.00" lengthAdjust="spacingAndGlyphs" >250</text>
<line x1="285.30" y1="463.00" x2="285.30" y2="465.20" stroke="#444" stroke-width="1.0" />
<text x="285.30" y="471.90" font-size="8.4" font-weight="bold" fill="#111" stroke="#111" stroke-width="0.16" text-anchor="middle" textLength="12.40" lengthAdjust="spacingAndGlyphs" >0.0</text>
<line x1="310.79" y1="463.00" x2="310.79" y2="464.20" stroke="#444" stroke-width="1.0" />
<line x1="336.27" y1="463.00" x2="336.27" y2="465.20" stroke="#444" stroke-width="1.0" />
<text x="336.27" y="471.90" font-size="8.4" font-weight="bold" fill="#111" stroke="#111" stroke-width="0.16" text-anchor="middle" textLength="12.40" lengthAdjust="spacingAndGlyphs" >0.5</text>
<line x1="361.76" y1="463.00" x2="361.76" y2="464.20" stroke="#444" stroke-width="1.0" />
<line x1="387.25" y1="463.00" x2="387.25" y2="465.20" stroke="#444" stroke-width="1.0" />
<text x="387.25" y="471.90" font-size="8.4" font-weight="bold" fill="#111" stroke="#111" stroke-width="0.16" text-anchor="middle" textLength="12.40" lengthAdjust="spacingAndGlyphs" >1.0</text>
<line x1="412.74" y1="463.00" x2="412.74" y2="464.20" stroke="#444" stroke-width="1.0" />
<line x1="438.23" y1="463.00" x2="438.23" y2="465.20" stroke="#444" stroke-width="1.0" />
<text x="438.23" y="471.90" font-size="8.4" font-weight="bold" fill="#111" stroke="#111" stroke-width="0.16" text-anchor="middle" textLength="12.40" lengthAdjust="spacingAndGlyphs" >1.5</text>
<line x1="463.71" y1="463.00" x2="463.71" y2="464.20" stroke="#444" stroke-width="1.0" />
<line x1="489.20" y1="463.00" x2="489.20" y2="465.20" stroke="#444" stroke-width="1.0" />
<text x="489.20" y="471.90" font-size="8.4" font-weight="bold" fill="#111" stroke="#111" stroke-width="0.16" text-anchor="middle" textLength="12.40" lengthAdjust="spacingAndGlyphs" >2.0</text>
<rect x="455.50" y="354.30" width="16.2" height="6.1" fill="#000000" fill-opacity="1.0" stroke="#000000" stroke-opacity="1" stroke-width="0.6"/>
<text x="473.80" y="359.10" font-size="8.0" font-weight="bold" fill="#111" stroke="#111" stroke-width="0.16" text-anchor="start" textLength="12.20" lengthAdjust="spacingAndGlyphs" >CE</text>
<rect x="455.50" y="363.90" width="16.2" height="6.1" fill="#ff0000" fill-opacity="0.7" stroke="#ff0000" stroke-opacity="0.8999999999999999" stroke-width="0.6"/>
<text x="473.80" y="368.70" font-size="8.0" font-weight="bold" fill="#111" stroke="#111" stroke-width="0.16" text-anchor="start" textLength="13.40" lengthAdjust="spacingAndGlyphs" >GA</text>
<rect x="455.50" y="373.30" width="16.2" height="6.1" fill="#0000ff" fill-opacity="0.6" stroke="#0000ff" stroke-opacity="0.8" stroke-width="0.6"/>
<text x="473.80" y="378.10" font-size="8.0" font-weight="bold" fill="#111" stroke="#111" stroke-width="0.16" text-anchor="start" textLength="12.20" lengthAdjust="spacingAndGlyphs" >GF</text>
<text x="57.80" y="35.60" font-size="8.7" font-weight="bold" fill="#111" stroke="#111" stroke-width="0.16" text-anchor="start" textLength="42.00" lengthAdjust="spacingAndGlyphs" >Diglyme</text>
<text x="65.30" y="198.80" font-size="8.7" font-weight="bold" fill="#111" stroke="#111" stroke-width="0.16" text-anchor="start" textLength="23.50" lengthAdjust="spacingAndGlyphs" >DME</text>
<text x="59.20" y="360.70" font-size="8.7" font-weight="bold" fill="#111" stroke="#111" stroke-width="0.16" text-anchor="start" textLength="22.40" lengthAdjust="spacingAndGlyphs" >DMF</text>
<text x="293.70" y="40.60" font-size="8.7" font-weight="bold" fill="#111" stroke="#111" stroke-width="0.16" text-anchor="start" textLength="40.80" lengthAdjust="spacingAndGlyphs" >Diglyme</text>
<text x="297.00" y="205.30" font-size="8.7" font-weight="bold" fill="#111" stroke="#111" stroke-width="0.16" text-anchor="start" textLength="22.40" lengthAdjust="spacingAndGlyphs" >DME</text>
<text x="290.80" y="360.80" font-size="8.7" font-weight="bold" fill="#111" stroke="#111" stroke-width="0.16" text-anchor="start" textLength="20.40" lengthAdjust="spacingAndGlyphs" >DMF</text>
<text x="98.80" y="156.10" font-size="9.2" font-weight="bold" fill="#111" stroke="#111" stroke-width="0.3" textLength="94.50" lengthAdjust="spacingAndGlyphs">Raman shift (cm<tspan font-size="6" dy="-3.5">-1</tspan><tspan dy="3.5">)</tspan></text>
<text x="95.10" y="322.80" font-size="9.2" font-weight="bold" fill="#111" stroke="#111" stroke-width="0.3" textLength="95.30" lengthAdjust="spacingAndGlyphs">Raman shift (cm<tspan font-size="6" dy="-3.5">-1</tspan><tspan dy="3.5">)</tspan></text>
<text x="97.30" y="483.20" font-size="9.2" font-weight="bold" fill="#111" stroke="#111" stroke-width="0.3" textLength="95.70" lengthAdjust="spacingAndGlyphs">Raman shift (cm<tspan font-size="6" dy="-3.5">-1</tspan><tspan dy="3.5">)</tspan></text>
<text x="358.90" y="154.60" font-size="9" font-weight="bold" fill="#111" stroke="#111" stroke-width="0.25" textLength="54.90" lengthAdjust="spacingAndGlyphs">ratio of I<tspan font-size="5.5" dy="2">D</tspan><tspan dy="-2">/I</tspan><tspan font-size="5.5" dy="2">G</tspan></text>
<text x="360.50" y="319.20" font-size="9" font-weight="bold" fill="#111" stroke="#111" stroke-width="0.25" textLength="55.70" lengthAdjust="spacingAndGlyphs">ratio of I<tspan font-size="5.5" dy="2">D</tspan><tspan dy="-2">/I</tspan><tspan font-size="5.5" dy="2">G</tspan></text>
<text x="357.90" y="480.30" font-size="9" font-weight="bold" fill="#111" stroke="#111" stroke-width="0.25" textLength="60.30" lengthAdjust="spacingAndGlyphs">ratio of I<tspan font-size="5.5" dy="2">D</tspan><tspan dy="-2">/I</tspan><tspan font-size="5.5" dy="2">G</tspan></text>
<g transform="translate(18.60,74.30) scale(1.12,1) rotate(-90)"><text x="0" y="0" font-size="9.6" font-weight="normal" fill="#111" stroke="#111" stroke-width="0.25" text-anchor="middle" textLength="109.00" lengthAdjust="spacingAndGlyphs" dominant-baseline="central">normalized intensity (a.u.)</text></g>
<g transform="translate(18.50,237.60) scale(1.12,1) rotate(-90)"><text x="0" y="0" font-size="9.6" font-weight="normal" fill="#111" stroke="#111" stroke-width="0.25" text-anchor="middle" textLength="105.50" lengthAdjust="spacingAndGlyphs" dominant-baseline="central">normalized intensity (a.u.)</text></g>
<g transform="translate(17.60,400.60) scale(1.12,1) rotate(-90)"><text x="0" y="0" font-size="9.6" font-weight="normal" fill="#111" stroke="#111" stroke-width="0.25" text-anchor="middle" textLength="111.50" lengthAdjust="spacingAndGlyphs" dominant-baseline="central">normalized intensity (a.u.)</text></g>
<g transform="translate(259.30,82.30) scale(1.2,1) rotate(-90)"><text x="0" y="0" font-size="9.4" font-weight="bold" fill="#111" stroke="#111" stroke-width="0.12" text-anchor="middle" textLength="36.30" lengthAdjust="spacingAndGlyphs" dominant-baseline="central">Numbers</text></g>
<g transform="translate(261.30,248.20) scale(1.2,1) rotate(-90)"><text x="0" y="0" font-size="9.4" font-weight="bold" fill="#111" stroke="#111" stroke-width="0.12" text-anchor="middle" textLength="37.00" lengthAdjust="spacingAndGlyphs" dominant-baseline="central">Numbers</text></g>
<g transform="translate(259.50,407.80) scale(1.2,1) rotate(-90)"><text x="0" y="0" font-size="9.4" font-weight="bold" fill="#111" stroke="#111" stroke-width="0.12" text-anchor="middle" textLength="37.10" lengthAdjust="spacingAndGlyphs" dominant-baseline="central">Numbers</text></g>
<text x="181.00" y="34.60" font-size="9.4" font-weight="bold" fill="#111" textLength="16.2" lengthAdjust="spacingAndGlyphs">I<tspan font-size="6" dy="2.4">D</tspan><tspan dy="-2.4">/I</tspan><tspan font-size="6" dy="2.4">G</tspan></text>
<text x="179.80" y="44.80" font-size="8.2" font-weight="bold" fill="#222" stroke="#222" stroke-width="0.16" text-anchor="start" textLength="17.80" lengthAdjust="spacingAndGlyphs" >0.81</text>
<line x1="197.80" y1="42.70" x2="215.50" y2="42.70" stroke="#444" stroke-width="1.2" />
<text x="218.00" y="44.80" font-size="8.2" font-weight="bold" fill="#111" stroke="#111" stroke-width="0.16" text-anchor="start" textLength="12.60" lengthAdjust="spacingAndGlyphs" >CE</text>
<text x="179.80" y="55.20" font-size="8.2" font-weight="bold" fill="#d02828" stroke="#d02828" stroke-width="0.16" text-anchor="start" textLength="17.80" lengthAdjust="spacingAndGlyphs" >0.84</text>
<line x1="197.80" y1="53.00" x2="215.50" y2="53.00" stroke="#d04848" stroke-width="1.2" />
<text x="218.00" y="55.20" font-size="8.2" font-weight="bold" fill="#111" stroke="#111" stroke-width="0.16" text-anchor="start" textLength="13.60" lengthAdjust="spacingAndGlyphs" >GA</text>
<text x="179.80" y="64.90" font-size="8.2" font-weight="bold" fill="#2020b0" stroke="#2020b0" stroke-width="0.16" text-anchor="start" textLength="17.80" lengthAdjust="spacingAndGlyphs" >0.87</text>
<line x1="197.80" y1="62.60" x2="215.50" y2="62.60" stroke="#2a2aa8" stroke-width="1.2" />
<text x="218.00" y="64.90" font-size="8.2" font-weight="bold" fill="#111" stroke="#111" stroke-width="0.16" text-anchor="start" textLength="12.60" lengthAdjust="spacingAndGlyphs" >GF</text>
<text x="185.80" y="198.30" font-size="9.4" font-weight="bold" fill="#111" textLength="16.2" lengthAdjust="spacingAndGlyphs">I<tspan font-size="6" dy="2.4">D</tspan><tspan dy="-2.4">/I</tspan><tspan font-size="6" dy="2.4">G</tspan></text>
<text x="183.30" y="208.70" font-size="8.2" font-weight="bold" fill="#222" stroke="#222" stroke-width="0.16" text-anchor="start" textLength="19.30" lengthAdjust="spacingAndGlyphs" >0.48</text>
<line x1="203.40" y1="206.30" x2="224.60" y2="206.30" stroke="#444" stroke-width="1.2" />
<text x="227.20" y="208.70" font-size="8.2" font-weight="bold" fill="#111" stroke="#111" stroke-width="0.16" text-anchor="start" textLength="12.60" lengthAdjust="spacingAndGlyphs" >CE</text>
<text x="183.30" y="217.80" font-size="8.2" font-weight="bold" fill="#d02828" stroke="#d02828" stroke-width="0.16" text-anchor="start" textLength="19.30" lengthAdjust="spacingAndGlyphs" >0.82</text>
<line x1="203.40" y1="215.40" x2="224.60" y2="215.40" stroke="#d04848" stroke-width="1.2" />
<text x="227.20" y="217.80" font-size="8.2" font-weight="bold" fill="#111" stroke="#111" stroke-width="0.16" text-anchor="start" textLength="13.60" lengthAdjust="spacingAndGlyphs" >GA</text>
<text x="183.30" y="226.90" font-size="8.2" font-weight="bold" fill="#2020b0" stroke="#2020b0" stroke-width="0.16" text-anchor="start" textLength="19.30" lengthAdjust="spacingAndGlyphs" >1.05</text>
<line x1="203.40" y1="224.40" x2="224.60" y2="224.40" stroke="#2a2aa8" stroke-width="1.2" />
<text x="227.20" y="226.90" font-size="8.2" font-weight="bold" fill="#111" stroke="#111" stroke-width="0.16" text-anchor="start" textLength="12.60" lengthAdjust="spacingAndGlyphs" >GF</text>
<text x="179.20" y="362.40" font-size="9.4" font-weight="bold" fill="#111" textLength="16.2" lengthAdjust="spacingAndGlyphs">I<tspan font-size="6" dy="2.4">D</tspan><tspan dy="-2.4">/I</tspan><tspan font-size="6" dy="2.4">G</tspan></text>
<text x="178.80" y="372.70" font-size="8.2" font-weight="bold" fill="#222" stroke="#222" stroke-width="0.16" text-anchor="start" textLength="18.80" lengthAdjust="spacingAndGlyphs" >0.32</text>
<line x1="193.30" y1="369.70" x2="217.50" y2="369.70" stroke="#444" stroke-width="1.2" />
<text x="220.60" y="372.70" font-size="8.2" font-weight="bold" fill="#111" stroke="#111" stroke-width="0.16" text-anchor="start" textLength="12.60" lengthAdjust="spacingAndGlyphs" >CE</text>
<text x="178.80" y="382.40" font-size="8.2" font-weight="bold" fill="#d02828" stroke="#d02828" stroke-width="0.16" text-anchor="start" textLength="18.80" lengthAdjust="spacingAndGlyphs" >0.39</text>
<line x1="193.30" y1="379.80" x2="217.50" y2="379.80" stroke="#d04848" stroke-width="1.2" />
<text x="220.60" y="382.40" font-size="8.2" font-weight="bold" fill="#111" stroke="#111" stroke-width="0.16" text-anchor="start" textLength="13.60" lengthAdjust="spacingAndGlyphs" >GA</text>
<text x="178.80" y="392.50" font-size="8.2" font-weight="bold" fill="#2020b0" stroke="#2020b0" stroke-width="0.16" text-anchor="start" textLength="18.80" lengthAdjust="spacingAndGlyphs" >0.37</text>
<line x1="193.30" y1="389.90" x2="217.50" y2="389.90" stroke="#2a2aa8" stroke-width="1.2" />
<text x="220.60" y="392.50" font-size="8.2" font-weight="bold" fill="#111" stroke="#111" stroke-width="0.16" text-anchor="start" textLength="12.60" lengthAdjust="spacingAndGlyphs" >GF</text>
</g></svg></body></html>
